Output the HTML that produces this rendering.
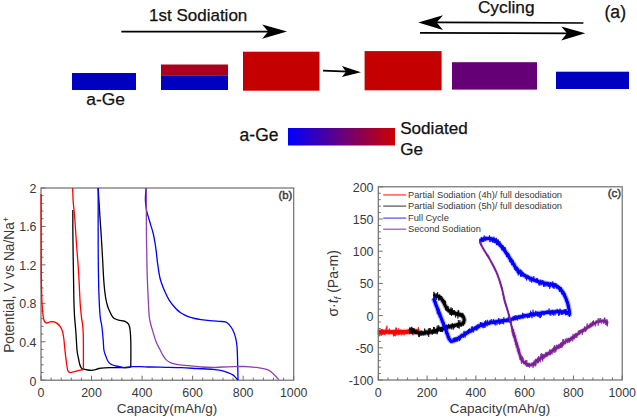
<!DOCTYPE html>
<html><head><meta charset="utf-8"><style>
html,body{margin:0;padding:0;background:#fff;}
body{width:637px;height:417px;overflow:hidden;font-family:"Liberation Sans",sans-serif;}
svg{display:block;}
</style></head><body>
<svg width="637" height="417" viewBox="0 0 637 417">
<g font-family="Liberation Sans, sans-serif" fill="#111" stroke="#111" stroke-width="0.25">
<text x="149" y="21" font-size="17">1st Sodiation</text>
<text x="477.9" y="13.2" font-size="17.3">Cycling</text>
<text x="604.5" y="18.2" font-size="17.6">(a)</text>
<text x="86.3" y="105" font-size="17.4">a-Ge</text>
<text x="239.6" y="141" font-size="17.5">a-Ge</text>
<text x="400.2" y="133.5" font-size="17.1">Sodiated</text>
<text x="400.2" y="154.7" font-size="17.1">Ge</text>
</g>
<g stroke="#000" stroke-width="1.75" fill="none">
<path d="M121.3 31.5 H270"/>
<path d="M434 22.45 L583.4 23.0"/>
<path d="M420 32.9 L570 33.3"/>
<path d="M323.1 70.6 L348 71.6"/>
</g>
<g fill="#000">
<path d="M287 31.55 L262.2 24.4 L268.2 31.55 L262.2 38.7 Z"/>
<path d="M418.2 22.4 L443 15.3 L436.6 22.4 L443 30 Z"/>
<path d="M585.3 33.3 L561.2 26.4 L567 33.3 L561.2 40.5 Z"/>
<path d="M361 72.2 L341.9 65.9 L346 71.7 L341.9 76.9 Z"/>
</g>
<rect x="72" y="73" width="64" height="17" fill="#0000c0"/>
<rect x="161" y="64.5" width="67" height="10.8" fill="#a8001e"/>
<rect x="161" y="75.3" width="67" height="14.7" fill="#0000c0"/>
<rect x="243" y="51.7" width="76.5" height="39" fill="#c40000"/>
<rect x="364.6" y="51.1" width="77" height="39.2" fill="#c40000"/>
<rect x="452" y="62.2" width="85" height="27.4" fill="#660077"/>
<rect x="556" y="71.7" width="73" height="17.3" fill="#0000c0"/>
<defs><linearGradient id="g1" x1="0" x2="1" y1="0" y2="0"><stop offset="0" stop-color="#0000ff"/><stop offset="1" stop-color="#cc0000"/></linearGradient></defs>
<rect x="288" y="128" width="107" height="17.5" fill="url(#g1)"/>
<rect x="41.00" y="188.00" width="252.70" height="192.20" fill="none" stroke="#6e6e6e" stroke-width="1.2"/>
<path d="M41.00 380.20 h4.5 M41.00 372.51 h2.5 M41.00 364.82 h2.5 M41.00 357.14 h2.5 M41.00 349.45 h2.5 M41.00 341.76 h4.5 M41.00 334.07 h2.5 M41.00 326.38 h2.5 M41.00 318.70 h2.5 M41.00 311.01 h2.5 M41.00 303.32 h4.5 M41.00 295.63 h2.5 M41.00 287.94 h2.5 M41.00 280.26 h2.5 M41.00 272.57 h2.5 M41.00 264.88 h4.5 M41.00 257.19 h2.5 M41.00 249.50 h2.5 M41.00 241.82 h2.5 M41.00 234.13 h2.5 M41.00 226.44 h4.5 M41.00 218.75 h2.5 M41.00 211.06 h2.5 M41.00 203.38 h2.5 M41.00 195.69 h2.5 M41.00 188.00 h4.5 M41.00 380.20 v-4.5 M51.11 380.20 v-2.5 M61.22 380.20 v-2.5 M71.32 380.20 v-2.5 M81.43 380.20 v-2.5 M91.54 380.20 v-4.5 M101.65 380.20 v-2.5 M111.76 380.20 v-2.5 M121.86 380.20 v-2.5 M131.97 380.20 v-2.5 M142.08 380.20 v-4.5 M152.19 380.20 v-2.5 M162.30 380.20 v-2.5 M172.40 380.20 v-2.5 M182.51 380.20 v-2.5 M192.62 380.20 v-4.5 M202.73 380.20 v-2.5 M212.84 380.20 v-2.5 M222.94 380.20 v-2.5 M233.05 380.20 v-2.5 M243.16 380.20 v-4.5 M253.27 380.20 v-2.5 M263.38 380.20 v-2.5 M273.48 380.20 v-2.5 M283.59 380.20 v-2.5 M293.70 380.20 v-4.5" stroke="#6e6e6e" stroke-width="1" fill="none"/>
<g fill="none" stroke-width="1.3" stroke-linejoin="round">
<path d="M72.80 210.00 C72.82 214.33 72.80 226.00 72.90 236.00 C73.00 246.00 73.23 259.33 73.40 270.00 C73.57 280.67 73.73 292.67 73.90 300.00 C74.07 307.33 74.22 310.33 74.40 314.00 C74.58 317.67 74.73 318.72 75.00 322.00 C75.27 325.28 75.67 329.03 76.00 333.70 C76.33 338.37 76.65 346.18 77.00 350.00 C77.35 353.82 77.65 354.22 78.10 356.60 C78.55 358.98 79.15 362.38 79.70 364.30 C80.25 366.22 80.67 367.28 81.40 368.10 C82.13 368.92 83.00 368.88 84.10 369.20 C85.20 369.52 86.80 369.82 88.00 370.00 C89.20 370.18 90.20 370.33 91.30 370.30 C92.40 370.27 93.32 370.10 94.60 369.80 C95.88 369.50 97.35 368.83 99.00 368.50 C100.65 368.17 102.67 367.95 104.50 367.80 C106.33 367.65 108.17 367.63 110.00 367.60 C111.83 367.57 113.67 367.60 115.50 367.60 C117.33 367.60 119.25 367.62 121.00 367.60 C122.75 367.58 124.42 367.57 126.00 367.50 C127.58 367.43 129.75 367.25 130.50 367.20" stroke="#000"/>
<path d="M130.50 367.20 C130.55 366.75 130.75 368.83 130.80 364.50 C130.85 360.17 130.92 346.95 130.80 341.20 C130.68 335.45 130.43 332.77 130.10 330.00 C129.77 327.23 129.42 325.90 128.80 324.60 C128.18 323.30 127.27 322.80 126.40 322.20 C125.53 321.60 124.92 321.35 123.60 321.00 C122.28 320.65 120.05 320.52 118.50 320.10 C116.95 319.68 115.42 319.25 114.30 318.50 C113.18 317.75 112.63 316.92 111.80 315.60 C110.97 314.28 110.03 312.28 109.30 310.60 C108.57 308.92 108.00 307.60 107.40 305.50 C106.80 303.40 106.18 300.75 105.70 298.00 C105.22 295.25 104.85 292.33 104.50 289.00 C104.15 285.67 103.87 282.00 103.60 278.00 C103.33 274.00 103.15 269.67 102.90 265.00 C102.65 260.33 102.33 254.17 102.10 250.00 C101.87 245.83 101.72 243.50 101.50 240.00 C101.28 236.50 101.07 233.00 100.80 229.00 C100.53 225.00 100.15 219.83 99.90 216.00 C99.65 212.17 99.52 209.33 99.30 206.00 C99.08 202.67 98.78 199.00 98.60 196.00 C98.42 193.00 98.27 189.33 98.20 188.00" stroke="#000"/>
<path d="M98.20 188.00 C98.20 198.33 98.10 233.00 98.20 250.00 C98.30 267.00 98.48 279.00 98.80 290.00 C99.12 301.00 99.60 310.00 100.10 316.00 C100.60 322.00 101.28 322.00 101.80 326.00 C102.32 330.00 102.85 336.00 103.20 340.00 C103.55 344.00 103.50 347.42 103.90 350.00 C104.30 352.58 104.95 353.67 105.60 355.50 C106.25 357.33 106.90 359.53 107.80 361.00 C108.70 362.47 109.72 363.48 111.00 364.30 C112.28 365.12 113.83 365.45 115.50 365.90 C117.17 366.35 119.55 366.72 121.00 367.00 C122.45 367.28 123.12 367.55 124.20 367.60 C125.28 367.65 126.22 367.47 127.50 367.30 C128.78 367.13 129.68 366.72 131.90 366.60 C134.12 366.48 137.78 366.53 140.80 366.60 C143.82 366.67 145.85 366.88 150.00 367.00 C154.15 367.12 160.47 367.18 165.70 367.30 C170.93 367.42 176.17 367.50 181.40 367.70 C186.63 367.90 191.87 368.23 197.10 368.50 C202.33 368.77 208.88 368.98 212.80 369.30 C216.72 369.62 217.98 369.82 220.60 370.40 C223.22 370.98 226.40 372.02 228.50 372.80 C230.60 373.58 231.90 374.18 233.20 375.10 C234.50 376.02 235.50 377.48 236.30 378.30 C237.10 379.12 237.72 379.72 238.00 380.00" stroke="#0000ff"/>
<path d="M238.00 380.00 C237.95 377.43 237.87 370.20 237.70 364.60 C237.53 359.00 237.37 350.95 237.00 346.40 C236.63 341.85 236.20 340.03 235.50 337.30 C234.80 334.57 233.87 332.12 232.80 330.00 C231.73 327.88 230.32 325.95 229.10 324.60 C227.88 323.25 227.17 322.43 225.50 321.90 C223.83 321.37 221.68 321.60 219.10 321.40 C216.52 321.20 212.98 320.98 210.00 320.70 C207.02 320.42 203.78 320.07 201.20 319.70 C198.62 319.33 196.53 318.97 194.50 318.50 C192.47 318.03 190.68 317.52 189.00 316.90 C187.32 316.28 185.90 315.58 184.40 314.80 C182.90 314.02 181.40 313.22 180.00 312.20 C178.60 311.18 177.78 310.68 176.00 308.70 C174.22 306.72 171.25 303.37 169.30 300.30 C167.35 297.23 165.83 293.93 164.30 290.30 C162.77 286.67 161.22 282.98 160.10 278.50 C158.98 274.02 158.22 267.65 157.60 263.40 C156.98 259.15 156.80 256.23 156.40 253.00 C156.00 249.77 155.75 247.33 155.20 244.00 C154.65 240.67 153.87 236.23 153.10 233.00 C152.33 229.77 151.43 227.40 150.60 224.60 C149.77 221.80 148.80 218.72 148.10 216.20 C147.40 213.68 146.82 211.70 146.40 209.50 C145.98 207.30 145.77 204.75 145.60 203.00 C145.43 201.25 145.40 200.50 145.40 199.00 C145.40 197.50 145.48 195.83 145.60 194.00 C145.72 192.17 146.02 189.00 146.10 188.00" stroke="#0000ff"/>
<path d="M41.10 194.00 C41.12 203.33 41.17 236.00 41.20 250.00 C41.23 264.00 41.20 270.00 41.30 278.00 C41.40 286.00 41.60 292.67 41.80 298.00 C42.00 303.33 42.27 306.95 42.50 310.00 C42.73 313.05 42.90 314.45 43.20 316.30 C43.50 318.15 43.72 319.98 44.30 321.10 C44.88 322.22 45.77 322.87 46.70 323.00 C47.63 323.13 48.72 322.08 49.90 321.90 C51.08 321.72 52.62 321.65 53.80 321.90 C54.98 322.15 55.93 322.62 57.00 323.40 C58.07 324.18 59.28 325.27 60.20 326.60 C61.12 327.93 61.90 329.42 62.50 331.40 C63.10 333.38 63.40 335.47 63.80 338.50 C64.20 341.53 64.50 345.92 64.90 349.60 C65.30 353.28 65.73 357.18 66.20 360.60 C66.67 364.02 67.13 368.12 67.70 370.10 C68.27 372.08 68.48 372.23 69.60 372.50 C70.72 372.77 73.00 372.02 74.40 371.70 C75.80 371.38 76.83 370.88 78.00 370.60 C79.17 370.32 80.50 370.17 81.40 370.00 C82.30 369.83 83.07 369.67 83.40 369.60" stroke="#ff0000"/>
<path d="M83.40 369.60 C83.40 365.50 83.43 351.10 83.40 345.00 C83.37 338.90 83.35 336.50 83.20 333.00 C83.05 329.50 82.77 326.48 82.50 324.00 C82.23 321.52 81.97 321.25 81.60 318.10 C81.23 314.95 80.67 310.15 80.30 305.10 C79.93 300.05 79.70 293.55 79.40 287.80 C79.10 282.05 78.87 276.35 78.50 270.60 C78.13 264.85 77.62 258.90 77.20 253.30 C76.78 247.70 76.33 241.83 76.00 237.00 C75.67 232.17 75.52 228.63 75.20 224.30 C74.88 219.97 74.42 214.55 74.10 211.00 C73.78 207.45 73.50 205.50 73.30 203.00 C73.10 200.50 73.00 198.50 72.90 196.00 C72.80 193.50 72.73 189.33 72.70 188.00" stroke="#ff0000"/>
<path d="M146.30 188.00 C146.32 195.00 146.33 219.67 146.40 230.00 C146.47 240.33 146.57 242.50 146.70 250.00 C146.83 257.50 146.93 266.62 147.20 275.00 C147.47 283.38 147.97 293.47 148.30 300.30 C148.63 307.13 148.88 312.38 149.20 316.00 C149.52 319.62 149.78 320.05 150.20 322.00 C150.62 323.95 150.75 324.50 151.70 327.70 C152.65 330.90 154.48 337.48 155.90 341.20 C157.32 344.92 159.08 347.75 160.20 350.00 C161.32 352.25 161.68 353.13 162.60 354.70 C163.52 356.27 164.40 358.08 165.70 359.40 C167.00 360.72 168.57 361.77 170.40 362.60 C172.23 363.43 173.57 363.88 176.70 364.40 C179.83 364.92 185.02 365.27 189.20 365.70 C193.38 366.13 197.87 366.70 201.80 367.00 C205.73 367.30 209.40 367.50 212.80 367.50 C216.20 367.50 218.80 367.15 222.20 367.00 C225.60 366.85 229.57 366.68 233.20 366.60 C236.83 366.52 240.92 366.43 244.00 366.50 C247.08 366.57 249.37 366.82 251.70 367.00 C254.03 367.18 256.03 367.32 258.00 367.60 C259.97 367.88 261.75 368.27 263.50 368.70 C265.25 369.13 267.17 369.60 268.50 370.20 C269.83 370.80 270.38 371.38 271.50 372.30 C272.62 373.22 273.98 374.48 275.20 375.70 C276.42 376.92 278.20 378.95 278.80 379.60" stroke="#9040b0"/>
</g>
<g font-family="Liberation Sans, sans-serif" fill="#393939" font-size="12.4">
<text x="36.5" y="385.50" text-anchor="end">0</text>
<text x="36.5" y="346.94" text-anchor="end">0.4</text>
<text x="36.5" y="308.38" text-anchor="end">0.8</text>
<text x="36.5" y="269.82" text-anchor="end">1.2</text>
<text x="36.5" y="231.26" text-anchor="end">1.6</text>
<text x="36.5" y="192.70" text-anchor="end">2</text>
<text x="41.00" y="396.6" text-anchor="middle">0</text>
<text x="91.54" y="396.6" text-anchor="middle">200</text>
<text x="142.08" y="396.6" text-anchor="middle">400</text>
<text x="192.62" y="396.6" text-anchor="middle">600</text>
<text x="243.16" y="396.6" text-anchor="middle">800</text>
<text x="293.70" y="396.6" text-anchor="middle">1000</text>
</g>
<text x="167" y="412.8" font-family="Liberation Sans, sans-serif" font-size="13.5" fill="#393939" text-anchor="middle">Capacity(mAh/g)</text>
<text transform="translate(14.0,352.8) rotate(-90)" font-family="Liberation Sans, sans-serif" font-size="13.75" fill="#393939">Potential, V vs Na/Na<tspan dy="-5.5" font-size="9">+</tspan></text>
<text x="292.4" y="199.2" font-family="Liberation Sans, sans-serif" font-size="11.4" fill="#3a3a3a" stroke="#3a3a3a" stroke-width="0.45" text-anchor="end">(b)</text>
<g fill="none" stroke-linejoin="round" stroke-linecap="butt">
<path d="M378.00 332.00 C380.00 332.00 386.33 332.03 390.00 332.00 C393.67 331.97 396.67 331.88 400.00 331.80 C403.33 331.72 406.83 331.58 410.00 331.50 C413.17 331.42 417.50 331.33 419.00 331.30" stroke="#ff0000" stroke-width="6.00" opacity="0.30"/>
<path d="M378.00 332.00 C380.00 332.00 386.33 332.03 390.00 332.00 C393.67 331.97 396.67 331.88 400.00 331.80 C403.33 331.72 406.83 331.58 410.00 331.50 C413.17 331.42 417.50 331.33 419.00 331.30" stroke="#ff0000" stroke-width="3.60"/>
<path d="M378.0 334.6 L378.1 334.9 L378.2 329.8 L378.3 332.1 L378.5 332.4 L378.6 332.3 L378.7 332.0 L378.9 331.9 L379.0 332.6 L379.2 336.4 L379.3 334.5 L379.5 332.4 L379.7 332.4 L379.8 334.1 L380.0 329.8 L380.2 332.9 L380.4 332.4 L380.6 334.2 L380.8 333.3 L381.0 329.8 L381.2 336.0 L381.4 331.8 L381.6 331.4 L381.8 328.9 L382.0 333.4 L382.3 329.4 L382.5 334.9 L382.7 329.4 L382.9 333.5 L383.1 332.3 L383.4 333.2 L383.6 334.2 L383.8 330.5 L384.1 333.5 L384.3 330.0 L384.5 331.8 L384.8 335.0 L385.0 332.9 L385.2 331.1 L385.5 332.8 L385.7 332.3 L385.9 329.5 L386.2 327.6 L386.4 331.6 L386.6 331.7 L386.9 325.6 L387.1 330.1 L387.3 331.2 L387.5 330.8 L387.8 331.4 L388.0 330.9 L388.2 333.5 L388.4 330.3 L388.6 330.6 L388.8 333.2 L389.0 334.4 L389.2 333.1 L389.4 328.5 L389.6 331.6 L389.8 331.3 L390.0 332.1 L390.2 330.5 L390.4 331.6 L390.7 332.6 L390.9 332.8 L391.1 333.4 L391.3 331.0 L391.5 334.0 L391.7 330.8 L391.9 332.6 L392.1 330.6 L392.3 331.9 L392.5 332.3 L392.7 332.0 L392.9 333.6 L393.1 334.6 L393.3 333.0 L393.5 336.4 L393.7 332.4 L393.9 334.8 L394.1 330.7 L394.3 334.5 L394.5 335.9 L394.7 331.1 L394.9 330.2 L395.1 336.3 L395.3 331.9 L395.5 332.2 L395.7 334.1 L395.9 327.5 L396.1 335.5 L396.3 327.9 L396.5 330.6 L396.7 333.2 L396.9 330.7 L397.1 332.4 L397.3 331.2 L397.5 334.1 L397.6 332.2 L397.8 331.6 L398.0 335.3 L398.2 331.6 L398.4 330.1 L398.6 328.4 L398.8 334.1 L399.0 329.8 L399.2 332.1 L399.4 335.0 L399.6 333.0 L399.8 331.1 L400.0 332.8 L400.2 330.2 L400.4 333.6 L400.6 329.8 L400.8 333.4 L401.0 333.7 L401.2 335.4 L401.4 333.5 L401.6 330.3 L401.8 334.1 L402.0 330.5 L402.2 331.1 L402.4 333.7 L402.6 330.1 L402.8 331.1 L403.0 335.2 L403.2 331.3 L403.4 330.9 L403.6 333.1 L403.8 332.1 L404.0 332.6 L404.3 332.5 L404.5 335.2 L404.7 334.3 L404.9 333.1 L405.1 330.7 L405.3 334.0 L405.5 333.3 L405.7 333.3 L405.9 331.4 L406.1 331.3 L406.3 332.3 L406.5 332.6 L406.7 331.4 L406.9 334.1 L407.1 331.3 L407.3 331.4 L407.5 334.1 L407.7 333.0 L407.9 332.4 L408.1 329.9 L408.3 329.2 L408.5 330.9 L408.7 333.2 L408.8 332.9 L409.0 330.5 L409.2 329.2 L409.4 330.2 L409.6 331.5 L409.8 332.3 L410.0 334.0 L410.2 332.8 L410.4 327.5 L410.6 331.7 L410.9 331.7 L411.1 330.7 L411.3 332.4 L411.5 327.1 L411.8 333.3 L412.0 332.9 L412.2 332.3 L412.5 330.8 L412.7 329.7 L412.9 335.4 L413.2 333.2 L413.4 328.6 L413.6 330.3 L413.9 331.9 L414.1 331.4 L414.3 332.1 L414.6 329.0 L414.8 330.6 L415.0 329.9 L415.2 332.5 L415.5 330.1 L415.7 329.7 L415.9 330.7 L416.1 332.2 L416.3 332.3 L416.5 329.6 L416.7 331.4 L416.9 331.6 L417.1 330.1 L417.3 329.6 L417.5 331.5 L417.6 333.7 L417.8 329.1 L418.0 332.7 L418.1 330.9 L418.3 334.2 L418.4 327.2 L418.5 331.0 L418.7 332.6 L418.8 330.1 L418.9 329.2 L419.0 333.5" stroke="#ff0000" stroke-width="0.7"/>
<path d="M409.30 330.20 C410.35 330.55 413.25 331.83 415.60 332.30 C417.95 332.77 420.80 333.05 423.40 333.00 C426.00 332.95 428.90 332.50 431.20 332.00 C433.50 331.50 435.00 330.67 437.20 330.00 C439.40 329.33 442.00 328.63 444.40 328.00 C446.80 327.37 449.20 326.80 451.60 326.20 C454.00 325.60 456.97 324.83 458.80 324.40 C460.63 323.97 461.73 324.08 462.60 323.60 C463.47 323.12 463.77 322.35 464.00 321.50 C464.23 320.65 464.27 319.48 464.00 318.50 C463.73 317.52 463.45 316.35 462.40 315.60 C461.35 314.85 459.52 314.57 457.70 314.00 C455.88 313.43 453.32 313.13 451.50 312.20 C449.68 311.27 448.10 310.03 446.80 308.40 C445.50 306.77 444.62 304.00 443.70 302.40 C442.78 300.80 442.12 299.77 441.30 298.80 C440.48 297.83 439.68 297.12 438.80 296.60 C437.92 296.08 436.88 295.75 436.00 295.70 C435.12 295.65 433.92 296.20 433.50 296.30" stroke="#000000" stroke-width="5.40" opacity="0.30"/>
<path d="M409.30 330.20 C410.35 330.55 413.25 331.83 415.60 332.30 C417.95 332.77 420.80 333.05 423.40 333.00 C426.00 332.95 428.90 332.50 431.20 332.00 C433.50 331.50 435.00 330.67 437.20 330.00 C439.40 329.33 442.00 328.63 444.40 328.00 C446.80 327.37 449.20 326.80 451.60 326.20 C454.00 325.60 456.97 324.83 458.80 324.40 C460.63 323.97 461.73 324.08 462.60 323.60 C463.47 323.12 463.77 322.35 464.00 321.50 C464.23 320.65 464.27 319.48 464.00 318.50 C463.73 317.52 463.45 316.35 462.40 315.60 C461.35 314.85 459.52 314.57 457.70 314.00 C455.88 313.43 453.32 313.13 451.50 312.20 C449.68 311.27 448.10 310.03 446.80 308.40 C445.50 306.77 444.62 304.00 443.70 302.40 C442.78 300.80 442.12 299.77 441.30 298.80 C440.48 297.83 439.68 297.12 438.80 296.60 C437.92 296.08 436.88 295.75 436.00 295.70 C435.12 295.65 433.92 296.20 433.50 296.30" stroke="#000000" stroke-width="3.00"/>
<path d="M409.3 334.6 L409.4 328.9 L409.5 331.9 L409.6 327.5 L409.8 328.2 L409.9 328.7 L410.0 328.7 L410.2 331.4 L410.4 333.0 L410.5 329.9 L410.7 331.2 L410.9 330.9 L411.1 327.8 L411.3 333.8 L411.5 331.1 L411.7 331.5 L411.9 326.8 L412.1 330.8 L412.3 334.1 L412.5 329.2 L412.7 331.8 L412.9 328.0 L413.2 332.8 L413.4 331.4 L413.6 329.4 L413.8 332.4 L414.1 328.1 L414.3 332.0 L414.5 333.8 L414.7 330.8 L414.9 331.8 L415.2 329.9 L415.4 331.9 L415.6 331.2 L415.8 333.8 L416.0 331.5 L416.2 330.0 L416.3 332.4 L416.5 332.0 L416.7 333.8 L416.9 332.0 L417.1 332.0 L417.3 333.7 L417.5 331.9 L417.7 331.7 L417.9 331.4 L418.1 334.6 L418.3 334.2 L418.5 333.8 L418.7 336.8 L418.9 334.7 L419.1 333.2 L419.3 337.1 L419.5 335.3 L419.7 334.4 L419.9 333.1 L420.1 334.1 L420.3 335.7 L420.5 334.1 L420.7 332.9 L421.0 330.5 L421.2 330.8 L421.4 335.1 L421.6 333.4 L421.8 335.7 L422.0 331.1 L422.2 331.6 L422.4 333.2 L422.6 334.8 L422.8 334.3 L423.0 331.3 L423.2 332.0 L423.4 334.5 L423.6 332.6 L423.8 335.5 L424.0 333.3 L424.2 334.1 L424.4 333.2 L424.6 328.5 L424.8 332.6 L425.0 333.2 L425.2 335.1 L425.4 330.3 L425.7 330.3 L425.9 329.7 L426.1 334.0 L426.3 332.0 L426.5 332.7 L426.7 332.8 L426.9 331.8 L427.1 330.3 L427.3 333.4 L427.5 332.7 L427.7 331.3 L427.9 335.2 L428.1 332.9 L428.3 328.6 L428.5 330.3 L428.7 336.9 L428.9 333.1 L429.1 330.7 L429.3 328.0 L429.5 331.5 L429.7 332.8 L429.9 333.9 L430.1 329.0 L430.3 328.1 L430.5 329.0 L430.7 332.8 L430.8 331.8 L431.0 330.2 L431.2 331.1 L431.4 331.1 L431.6 332.5 L431.8 333.5 L432.1 329.5 L432.3 334.6 L432.5 332.1 L432.7 329.7 L432.8 331.6 L433.0 331.2 L433.2 333.9 L433.4 332.9 L433.6 326.9 L433.8 331.5 L434.0 333.5 L434.1 329.2 L434.3 327.0 L434.5 332.5 L434.7 332.0 L434.9 330.2 L435.1 331.1 L435.2 333.6 L435.4 330.4 L435.6 330.9 L435.8 333.4 L436.0 329.4 L436.2 330.2 L436.4 330.3 L436.6 329.3 L436.8 329.9 L437.0 334.3 L437.2 325.6 L437.4 333.6 L437.6 331.2 L437.7 331.5 L437.9 330.7 L438.1 328.9 L438.3 327.1 L438.5 331.4 L438.7 325.2 L438.9 330.4 L439.1 327.6 L439.3 326.6 L439.4 327.9 L439.6 327.9 L439.8 329.0 L440.0 329.0 L440.2 331.3 L440.4 327.1 L440.6 332.0 L440.8 327.8 L441.0 329.6 L441.2 328.2 L441.4 329.8 L441.6 331.9 L441.8 329.1 L442.0 327.6 L442.2 328.5 L442.4 331.1 L442.6 332.1 L442.8 328.3 L443.0 330.8 L443.2 329.4 L443.4 324.3 L443.6 329.2 L443.8 326.8 L444.0 326.9 L444.2 329.6 L444.4 328.0 L444.6 327.8 L444.8 327.2 L445.0 327.3 L445.2 326.8 L445.4 328.3 L445.6 327.7 L445.8 328.5 L446.0 330.5 L446.2 326.4 L446.3 324.6 L446.5 326.8 L446.7 329.1 L446.9 325.8 L447.1 325.4 L447.3 327.9 L447.5 329.8 L447.7 326.3 L447.9 327.1 L448.1 324.8 L448.3 326.1 L448.5 325.4 L448.7 323.8 L448.9 325.8 L449.1 328.2 L449.3 328.3 L449.5 325.1 L449.7 328.1 L449.8 326.6 L450.0 328.3 L450.2 325.1 L450.4 326.9 L450.6 327.5 L450.8 324.5 L451.0 325.7 L451.2 325.7 L451.4 329.4 L451.6 326.0 L451.8 324.4 L452.0 325.3 L452.2 323.3 L452.4 323.2 L452.6 325.4 L452.8 324.4 L453.0 326.0 L453.2 329.7 L453.4 328.1 L453.6 326.6 L453.8 325.4 L454.1 327.9 L454.3 328.2 L454.5 326.5 L454.7 323.7 L454.9 326.4 L455.1 326.7 L455.3 326.1 L455.5 326.3 L455.7 325.2 L455.9 326.9 L456.1 323.7 L456.3 323.8 L456.5 326.0 L456.7 325.3 L456.9 325.1 L457.1 323.8 L457.3 323.0 L457.5 327.6 L457.6 326.7 L457.8 324.6 L458.0 323.0 L458.2 328.0 L458.3 320.1 L458.5 323.1 L458.6 322.5 L458.8 325.0 L459.1 328.7 L459.4 328.4 L459.6 322.3 L459.9 320.2 L460.1 324.2 L460.3 323.9 L460.6 324.6 L460.8 325.1 L461.0 326.9 L461.2 323.5 L461.3 324.1 L461.5 326.2 L461.7 323.2 L461.9 323.9 L462.0 324.9 L462.2 321.6 L462.3 325.2 L462.5 325.5 L462.6 324.7 L462.8 324.3 L463.0 321.3 L463.2 325.1 L463.3 322.5 L463.4 320.5 L463.5 325.6 L463.6 324.8 L463.7 321.1 L463.8 323.3 L463.9 319.0 L463.9 323.8 L464.0 319.9 L464.0 321.6 L464.1 321.6 L464.1 324.0 L464.1 323.2 L464.2 321.0 L464.2 317.8 L464.2 318.8 L464.2 319.3 L464.2 317.6 L464.2 321.2 L464.2 315.9 L464.1 319.4 L464.1 319.8 L464.0 320.6 L464.0 322.9 L463.9 316.7 L463.9 318.5 L463.8 317.4 L463.8 316.2 L463.7 315.8 L463.7 318.4 L463.6 316.6 L463.5 316.1 L463.4 317.9 L463.3 315.8 L463.2 314.5 L463.1 317.8 L462.9 316.5 L462.8 312.9 L462.6 314.0 L462.4 316.1 L462.3 316.3 L462.1 317.5 L462.0 313.8 L461.8 314.5 L461.6 316.1 L461.5 314.0 L461.3 317.3 L461.1 313.0 L460.9 315.8 L460.7 313.4 L460.5 315.3 L460.3 316.4 L460.1 314.4 L459.9 312.8 L459.7 314.7 L459.5 314.2 L459.3 316.0 L459.1 316.6 L458.8 310.6 L458.6 311.9 L458.4 315.6 L458.2 309.9 L457.9 318.5 L457.7 313.0 L457.5 315.8 L457.4 312.0 L457.2 314.0 L457.0 315.2 L456.8 315.5 L456.6 315.8 L456.4 315.6 L456.2 313.2 L456.0 313.9 L455.8 314.9 L455.6 317.5 L455.4 316.0 L455.2 312.8 L455.0 311.4 L454.8 310.9 L454.6 313.1 L454.4 312.3 L454.2 310.0 L454.0 312.0 L453.8 313.2 L453.6 310.3 L453.4 312.3 L453.2 314.9 L453.0 314.3 L452.8 311.7 L452.6 313.1 L452.4 308.2 L452.2 313.3 L452.0 314.9 L451.8 311.1 L451.7 309.1 L451.5 315.9 L451.3 314.0 L451.1 310.6 L451.0 307.3 L450.8 315.0 L450.6 309.1 L450.4 310.9 L450.3 311.8 L450.1 310.2 L449.9 314.9 L449.8 310.4 L449.6 311.5 L449.4 310.6 L449.3 312.4 L449.1 309.4 L449.0 309.9 L448.8 310.0 L448.6 312.3 L448.5 310.3 L448.3 309.7 L448.2 309.4 L448.0 306.1 L447.9 312.2 L447.8 307.6 L447.6 309.8 L447.5 307.0 L447.3 308.8 L447.2 309.8 L447.1 306.0 L446.9 309.9 L446.8 309.7 L446.7 311.1 L446.6 307.7 L446.5 305.8 L446.3 308.6 L446.2 308.2 L446.1 310.7 L446.0 306.9 L445.9 306.7 L445.8 309.3 L445.7 306.2 L445.6 306.5 L445.5 309.4 L445.4 303.2 L445.3 306.6 L445.2 301.3 L445.2 306.7 L445.1 301.0 L445.0 304.9 L444.9 305.9 L444.8 304.4 L444.7 300.1 L444.6 305.7 L444.5 301.6 L444.5 301.6 L444.4 304.3 L444.3 301.8 L444.2 302.2 L444.1 301.5 L444.0 303.8 L443.9 301.0 L443.9 300.3 L443.8 304.2 L443.7 301.0 L443.6 299.6 L443.4 301.0 L443.3 302.0 L443.2 299.0 L443.1 299.4 L443.0 300.8 L442.9 301.7 L442.7 302.7 L442.6 299.6 L442.5 302.7 L442.4 300.7 L442.3 299.0 L442.2 302.0 L442.1 301.8 L442.0 297.6 L441.9 298.6 L441.8 298.6 L441.6 296.3 L441.5 297.7 L441.4 296.3 L441.3 298.7 L441.1 299.9 L441.0 298.3 L440.8 298.0 L440.7 296.7 L440.5 299.7 L440.4 295.8 L440.2 295.8 L440.1 298.8 L439.9 298.4 L439.8 300.2 L439.6 294.5 L439.4 294.7 L439.3 296.9 L439.1 296.7 L439.0 297.1 L438.8 297.8 L438.6 300.6 L438.4 296.7 L438.2 295.3 L438.0 296.4 L437.8 297.5 L437.6 292.2 L437.4 297.0 L437.2 296.3 L437.0 296.7 L436.8 293.5 L436.6 299.9 L436.4 296.5 L436.2 297.6 L436.0 297.6 L435.8 297.5 L435.5 296.2 L435.3 296.1 L435.1 298.6 L434.8 293.5 L434.6 292.9 L434.3 297.0 L434.1 296.3 L433.9 291.8 L433.8 296.1 L433.6 294.9 L433.5 295.1" stroke="#000000" stroke-width="0.7"/>
<path d="M433.50 298.30 C434.35 300.52 436.78 306.93 438.60 311.60 C440.42 316.27 442.95 322.57 444.40 326.30 C445.85 330.03 446.47 331.83 447.30 334.00 C448.13 336.17 448.70 338.10 449.40 339.30 C450.10 340.50 450.68 340.98 451.50 341.20 C452.32 341.42 453.12 341.13 454.30 340.60 C455.48 340.07 457.15 338.90 458.60 338.00 C460.05 337.10 461.55 336.10 463.00 335.20 C464.45 334.30 465.87 333.42 467.30 332.60 C468.73 331.78 470.17 331.10 471.60 330.30 C473.03 329.50 474.47 328.58 475.90 327.80 C477.33 327.02 478.77 326.20 480.20 325.60 C481.63 325.00 483.05 324.63 484.50 324.20 C485.95 323.77 487.45 323.35 488.90 323.00 C490.35 322.65 491.62 322.40 493.20 322.10 C494.78 321.80 495.98 321.53 498.40 321.20 C500.82 320.87 504.05 320.80 507.70 320.10 C511.35 319.40 516.12 317.95 520.30 317.00 C524.48 316.05 528.62 315.13 532.80 314.40 C536.98 313.67 542.03 313.02 545.40 312.60 C548.77 312.18 550.48 312.05 553.00 311.90 C555.52 311.75 558.33 311.63 560.50 311.70 C562.67 311.77 564.65 312.00 566.00 312.30 C567.35 312.60 568.02 313.15 568.60 313.50 C569.18 313.85 569.38 314.82 569.50 314.40 C569.62 313.98 569.45 312.15 569.30 311.00 C569.15 309.85 568.92 308.93 568.60 307.50 C568.28 306.07 568.03 304.33 567.40 302.40 C566.77 300.47 565.77 297.88 564.80 295.90 C563.83 293.92 562.85 292.05 561.60 290.50 C560.35 288.95 558.92 287.60 557.30 286.60 C555.68 285.60 554.23 285.10 551.90 284.50 C549.57 283.90 546.17 283.72 543.30 283.00 C540.43 282.28 537.58 281.28 534.70 280.20 C531.82 279.12 528.70 278.02 526.00 276.50 C523.30 274.98 520.65 273.25 518.50 271.10 C516.35 268.95 514.90 266.30 513.10 263.60 C511.30 260.90 509.50 257.60 507.70 254.90 C505.90 252.20 504.10 249.55 502.30 247.40 C500.50 245.25 498.68 243.43 496.90 242.00 C495.12 240.57 493.57 239.33 491.60 238.80 C489.63 238.27 487.08 238.45 485.10 238.80 C483.12 239.15 480.60 240.55 479.70 240.90" stroke="#0000ff" stroke-width="5.50" opacity="0.30"/>
<path d="M433.50 298.30 C434.35 300.52 436.78 306.93 438.60 311.60 C440.42 316.27 442.95 322.57 444.40 326.30 C445.85 330.03 446.47 331.83 447.30 334.00 C448.13 336.17 448.70 338.10 449.40 339.30 C450.10 340.50 450.68 340.98 451.50 341.20 C452.32 341.42 453.12 341.13 454.30 340.60 C455.48 340.07 457.15 338.90 458.60 338.00 C460.05 337.10 461.55 336.10 463.00 335.20 C464.45 334.30 465.87 333.42 467.30 332.60 C468.73 331.78 470.17 331.10 471.60 330.30 C473.03 329.50 474.47 328.58 475.90 327.80 C477.33 327.02 478.77 326.20 480.20 325.60 C481.63 325.00 483.05 324.63 484.50 324.20 C485.95 323.77 487.45 323.35 488.90 323.00 C490.35 322.65 491.62 322.40 493.20 322.10 C494.78 321.80 495.98 321.53 498.40 321.20 C500.82 320.87 504.05 320.80 507.70 320.10 C511.35 319.40 516.12 317.95 520.30 317.00 C524.48 316.05 528.62 315.13 532.80 314.40 C536.98 313.67 542.03 313.02 545.40 312.60 C548.77 312.18 550.48 312.05 553.00 311.90 C555.52 311.75 558.33 311.63 560.50 311.70 C562.67 311.77 564.65 312.00 566.00 312.30 C567.35 312.60 568.02 313.15 568.60 313.50 C569.18 313.85 569.38 314.82 569.50 314.40 C569.62 313.98 569.45 312.15 569.30 311.00 C569.15 309.85 568.92 308.93 568.60 307.50 C568.28 306.07 568.03 304.33 567.40 302.40 C566.77 300.47 565.77 297.88 564.80 295.90 C563.83 293.92 562.85 292.05 561.60 290.50 C560.35 288.95 558.92 287.60 557.30 286.60 C555.68 285.60 554.23 285.10 551.90 284.50 C549.57 283.90 546.17 283.72 543.30 283.00 C540.43 282.28 537.58 281.28 534.70 280.20 C531.82 279.12 528.70 278.02 526.00 276.50 C523.30 274.98 520.65 273.25 518.50 271.10 C516.35 268.95 514.90 266.30 513.10 263.60 C511.30 260.90 509.50 257.60 507.70 254.90 C505.90 252.20 504.10 249.55 502.30 247.40 C500.50 245.25 498.68 243.43 496.90 242.00 C495.12 240.57 493.57 239.33 491.60 238.80 C489.63 238.27 487.08 238.45 485.10 238.80 C483.12 239.15 480.60 240.55 479.70 240.90" stroke="#0000ff" stroke-width="3.10"/>
<path d="M433.5 298.5 L433.5 300.5 L433.6 301.8 L433.6 298.2 L433.7 300.6 L433.7 298.8 L433.7 298.3 L433.8 298.3 L433.8 296.4 L433.9 298.9 L433.9 299.6 L434.0 297.3 L434.1 301.0 L434.1 298.5 L434.2 299.2 L434.2 296.5 L434.3 296.6 L434.4 301.9 L434.4 301.5 L434.5 301.8 L434.5 300.0 L434.6 300.2 L434.7 300.1 L434.7 303.4 L434.8 300.1 L434.9 298.4 L435.0 301.7 L435.0 301.4 L435.1 304.3 L435.2 301.5 L435.3 304.0 L435.3 301.2 L435.4 306.4 L435.5 299.8 L435.6 302.9 L435.6 304.4 L435.7 304.5 L435.8 304.0 L435.9 304.3 L436.0 303.3 L436.1 301.2 L436.1 305.0 L436.2 305.1 L436.3 305.4 L436.4 305.1 L436.5 305.4 L436.5 304.6 L436.6 310.2 L436.7 304.7 L436.8 307.4 L436.9 305.0 L437.0 306.5 L437.1 305.1 L437.1 308.9 L437.2 310.1 L437.3 314.2 L437.4 307.8 L437.5 310.2 L437.6 307.9 L437.6 308.0 L437.7 308.3 L437.8 308.7 L437.9 310.1 L438.0 309.9 L438.0 309.5 L438.1 312.6 L438.2 310.8 L438.3 307.5 L438.4 313.5 L438.4 313.1 L438.5 312.8 L438.6 313.1 L438.7 310.6 L438.7 314.2 L438.8 308.8 L438.9 309.9 L439.0 314.1 L439.0 308.9 L439.1 313.3 L439.2 315.2 L439.2 317.0 L439.3 314.3 L439.4 310.6 L439.5 312.3 L439.5 316.0 L439.6 315.4 L439.7 311.1 L439.8 314.2 L439.9 314.2 L439.9 317.1 L440.0 315.8 L440.1 317.2 L440.2 313.4 L440.2 315.6 L440.3 317.8 L440.4 316.6 L440.5 318.5 L440.6 316.1 L440.6 319.6 L440.7 313.5 L440.8 320.2 L440.9 318.1 L441.0 318.9 L441.0 316.6 L441.1 319.5 L441.2 319.6 L441.3 317.9 L441.4 318.5 L441.4 322.0 L441.5 322.2 L441.6 320.3 L441.7 319.9 L441.8 320.5 L441.8 320.7 L441.9 322.6 L442.0 323.0 L442.1 318.1 L442.1 322.3 L442.2 320.2 L442.3 320.9 L442.4 323.0 L442.5 319.1 L442.5 321.1 L442.6 321.8 L442.7 320.9 L442.8 322.2 L442.8 321.2 L442.9 323.4 L443.0 327.9 L443.0 323.2 L443.1 324.9 L443.2 323.7 L443.3 323.1 L443.3 323.2 L443.4 321.8 L443.5 321.9 L443.5 323.8 L443.6 324.4 L443.7 321.8 L443.7 323.0 L443.8 326.3 L443.9 325.2 L443.9 325.7 L444.0 324.6 L444.1 325.0 L444.1 322.3 L444.2 326.9 L444.2 326.8 L444.3 325.6 L444.3 324.3 L444.4 324.1 L444.5 326.2 L444.6 327.5 L444.7 325.7 L444.8 328.8 L444.9 328.9 L445.0 327.6 L445.1 328.8 L445.2 327.0 L445.2 328.3 L445.3 326.7 L445.4 328.2 L445.5 332.9 L445.6 332.2 L445.6 328.3 L445.7 326.0 L445.8 331.9 L445.8 329.3 L445.9 330.7 L446.0 334.2 L446.0 328.8 L446.1 331.9 L446.2 330.6 L446.2 330.3 L446.3 332.4 L446.4 333.2 L446.4 333.8 L446.5 331.1 L446.5 332.0 L446.6 331.2 L446.7 333.5 L446.7 330.7 L446.8 334.0 L446.8 331.0 L446.9 334.0 L446.9 332.1 L447.0 333.9 L447.1 335.5 L447.1 334.7 L447.2 332.3 L447.2 334.5 L447.3 336.2 L447.4 338.0 L447.5 335.4 L447.6 335.4 L447.6 331.5 L447.7 337.0 L447.8 333.8 L447.9 335.8 L448.0 337.1 L448.0 337.5 L448.1 338.0 L448.2 337.4 L448.3 336.2 L448.3 339.4 L448.4 338.7 L448.5 337.6 L448.5 337.2 L448.6 337.4 L448.7 338.1 L448.8 340.1 L448.8 339.3 L448.9 339.3 L449.0 339.5 L449.0 336.9 L449.1 339.5 L449.2 336.3 L449.3 338.6 L449.3 336.8 L449.4 340.1 L449.5 339.9 L449.7 339.0 L449.8 338.1 L450.0 339.3 L450.1 341.7 L450.3 341.0 L450.4 338.9 L450.6 338.6 L450.7 342.5 L450.8 340.0 L451.0 343.2 L451.2 339.9 L451.3 340.8 L451.5 342.2 L451.7 341.0 L451.9 340.5 L452.0 339.8 L452.2 340.5 L452.4 342.1 L452.6 341.5 L452.8 340.5 L453.0 339.2 L453.2 338.1 L453.4 342.0 L453.6 341.9 L453.8 340.8 L454.1 337.3 L454.3 339.1 L454.4 338.2 L454.6 339.4 L454.7 342.0 L454.9 342.0 L455.1 339.2 L455.2 339.8 L455.4 339.1 L455.6 341.0 L455.7 337.2 L455.9 341.4 L456.1 338.9 L456.3 341.4 L456.4 341.4 L456.6 337.7 L456.8 338.6 L457.0 338.4 L457.2 340.0 L457.3 340.9 L457.5 339.4 L457.7 341.6 L457.9 339.5 L458.1 339.2 L458.2 337.5 L458.4 338.3 L458.6 336.5 L458.8 336.5 L458.9 337.0 L459.1 339.0 L459.3 340.4 L459.4 339.0 L459.6 341.1 L459.8 339.9 L459.9 338.2 L460.1 337.5 L460.3 335.7 L460.5 339.6 L460.6 336.2 L460.8 335.0 L461.0 337.2 L461.1 335.4 L461.3 333.8 L461.5 336.8 L461.7 337.3 L461.8 336.2 L462.0 334.7 L462.2 337.0 L462.3 335.5 L462.5 337.1 L462.7 335.6 L462.8 335.6 L463.0 334.6 L463.2 334.4 L463.3 336.3 L463.5 337.9 L463.7 337.4 L463.9 335.2 L464.0 330.8 L464.2 334.6 L464.4 333.5 L464.6 334.9 L464.7 336.1 L464.9 332.8 L465.1 337.7 L465.2 333.3 L465.4 331.5 L465.6 333.8 L465.8 335.0 L465.9 333.3 L466.1 335.3 L466.3 334.5 L466.4 335.1 L466.6 333.2 L466.8 331.4 L467.0 332.7 L467.1 331.7 L467.3 334.2 L467.5 330.4 L467.7 334.3 L467.8 333.3 L468.0 331.8 L468.2 330.1 L468.4 331.4 L468.6 333.7 L468.7 328.9 L468.9 331.0 L469.1 332.5 L469.3 329.0 L469.5 332.3 L469.6 328.5 L469.8 331.1 L470.0 331.6 L470.2 330.9 L470.3 331.3 L470.5 330.2 L470.7 329.8 L470.9 332.8 L471.1 330.2 L471.2 330.2 L471.4 326.6 L471.6 326.6 L471.8 331.9 L472.0 331.4 L472.1 329.2 L472.3 328.9 L472.5 326.4 L472.7 327.9 L472.9 330.8 L473.0 327.8 L473.2 327.9 L473.4 332.5 L473.6 328.8 L473.8 328.7 L473.9 329.4 L474.1 328.2 L474.3 330.1 L474.5 329.7 L474.6 330.0 L474.8 329.6 L475.0 326.3 L475.2 329.6 L475.4 329.8 L475.5 327.4 L475.7 329.3 L475.9 327.9 L476.1 328.7 L476.3 330.3 L476.4 325.5 L476.6 329.6 L476.8 327.3 L477.0 330.5 L477.2 325.9 L477.3 327.5 L477.5 327.2 L477.7 328.0 L477.9 324.1 L478.0 327.2 L478.2 327.4 L478.4 328.7 L478.6 328.3 L478.8 326.1 L478.9 326.5 L479.1 326.0 L479.3 327.2 L479.5 327.5 L479.7 326.2 L479.8 326.8 L480.0 324.6 L480.2 325.8 L480.4 322.0 L480.6 326.7 L480.8 322.3 L481.0 325.5 L481.2 326.1 L481.4 322.9 L481.6 326.9 L481.8 324.3 L482.0 326.3 L482.1 324.5 L482.3 322.8 L482.5 327.3 L482.7 324.4 L482.9 324.6 L483.1 328.3 L483.3 325.1 L483.5 323.1 L483.7 326.1 L483.9 323.8 L484.1 327.9 L484.3 325.0 L484.5 322.5 L484.7 321.4 L484.9 324.1 L485.1 327.8 L485.3 325.3 L485.5 320.2 L485.7 322.2 L485.9 321.4 L486.1 325.2 L486.3 324.2 L486.5 323.7 L486.7 324.3 L486.9 321.8 L487.1 326.4 L487.3 319.8 L487.5 322.4 L487.7 322.3 L487.9 323.6 L488.1 322.5 L488.3 322.9 L488.5 324.4 L488.7 322.2 L488.9 322.6 L489.1 323.2 L489.3 324.8 L489.5 321.9 L489.7 324.9 L489.9 323.4 L490.1 319.9 L490.3 323.1 L490.5 322.8 L490.7 323.5 L490.9 320.9 L491.1 320.2 L491.3 319.1 L491.5 322.5 L491.7 322.8 L491.9 321.9 L492.1 322.2 L492.3 323.9 L492.5 321.1 L492.8 321.9 L493.0 321.3 L493.2 324.0 L493.4 319.1 L493.6 321.4 L493.7 320.3 L493.9 321.4 L494.1 324.0 L494.3 322.4 L494.4 322.7 L494.6 324.4 L494.8 322.1 L494.9 322.3 L495.1 322.7 L495.3 325.4 L495.5 323.0 L495.7 323.0 L495.9 322.6 L496.1 322.2 L496.3 322.2 L496.5 322.1 L496.7 321.1 L496.9 325.2 L497.1 321.3 L497.4 323.2 L497.6 320.7 L497.9 322.8 L498.1 321.4 L498.4 319.5 L498.6 320.4 L498.7 318.0 L498.9 320.4 L499.0 324.1 L499.2 319.7 L499.4 321.6 L499.6 320.2 L499.7 324.8 L499.9 322.6 L500.1 321.2 L500.3 321.2 L500.5 323.6 L500.6 320.8 L500.8 322.7 L501.0 322.1 L501.2 319.7 L501.4 320.0 L501.6 320.2 L501.8 322.3 L502.0 324.0 L502.2 319.5 L502.4 322.1 L502.6 320.6 L502.8 320.6 L503.0 319.2 L503.2 322.6 L503.4 320.3 L503.6 324.2 L503.8 317.1 L504.1 320.2 L504.3 320.2 L504.5 320.7 L504.7 320.0 L504.9 322.1 L505.2 320.3 L505.4 321.8 L505.6 319.2 L505.8 319.5 L506.1 321.5 L506.3 318.6 L506.5 322.1 L506.8 321.0 L507.0 321.2 L507.2 320.6 L507.5 320.7 L507.7 322.2 L507.9 320.5 L508.0 319.8 L508.2 316.8 L508.4 317.6 L508.6 320.8 L508.8 318.5 L508.9 321.2 L509.1 321.0 L509.3 322.7 L509.5 315.6 L509.7 320.0 L509.9 320.3 L510.0 321.9 L510.2 319.1 L510.4 320.8 L510.6 319.9 L510.8 319.0 L511.0 317.9 L511.2 322.3 L511.4 318.7 L511.6 318.7 L511.8 320.1 L512.0 318.3 L512.2 319.6 L512.4 318.9 L512.6 317.7 L512.8 318.8 L513.0 320.2 L513.2 315.9 L513.4 317.7 L513.6 320.3 L513.8 317.2 L514.0 317.9 L514.2 317.2 L514.4 320.0 L514.6 316.1 L514.8 317.0 L515.0 317.7 L515.2 315.0 L515.4 318.9 L515.6 317.3 L515.8 319.9 L516.1 317.2 L516.3 318.0 L516.5 316.4 L516.7 316.7 L516.9 315.3 L517.1 318.0 L517.3 319.1 L517.5 320.4 L517.7 317.0 L517.9 318.1 L518.1 318.4 L518.3 318.1 L518.5 315.9 L518.7 315.1 L518.9 316.9 L519.1 316.8 L519.3 318.8 L519.5 316.9 L519.7 317.2 L519.9 315.4 L520.1 318.0 L520.3 315.3 L520.5 317.1 L520.7 318.2 L520.9 318.0 L521.1 316.1 L521.3 318.2 L521.5 316.1 L521.7 316.0 L521.9 318.2 L522.1 317.0 L522.3 315.2 L522.5 312.8 L522.7 315.8 L522.9 315.2 L523.1 318.6 L523.3 315.2 L523.5 313.6 L523.7 315.2 L523.9 316.8 L524.1 317.4 L524.3 315.8 L524.5 314.6 L524.7 313.9 L524.9 316.2 L525.1 314.4 L525.3 315.4 L525.5 315.5 L525.7 314.8 L525.9 315.0 L526.1 315.5 L526.3 315.1 L526.5 316.9 L526.6 315.8 L526.8 316.9 L527.0 314.9 L527.2 316.2 L527.4 315.2 L527.6 318.3 L527.8 315.4 L528.0 316.6 L528.2 317.9 L528.4 317.4 L528.6 316.7 L528.8 315.0 L529.0 315.4 L529.2 315.5 L529.4 317.5 L529.6 317.7 L529.8 312.9 L530.0 314.0 L530.2 314.5 L530.4 316.1 L530.6 310.6 L530.8 315.1 L531.0 316.3 L531.2 312.4 L531.4 312.0 L531.6 313.6 L531.8 317.2 L532.0 318.3 L532.2 314.4 L532.4 313.5 L532.6 313.6 L532.8 313.8 L533.0 309.7 L533.2 313.7 L533.4 313.7 L533.6 312.2 L533.8 315.7 L534.0 317.0 L534.2 314.0 L534.4 314.2 L534.6 314.9 L534.8 312.7 L535.1 316.1 L535.3 314.1 L535.5 312.7 L535.7 310.7 L535.9 313.2 L536.1 314.2 L536.3 311.6 L536.5 313.1 L536.8 315.3 L537.0 314.0 L537.2 313.4 L537.4 316.5 L537.6 313.4 L537.8 311.6 L538.0 316.4 L538.2 314.7 L538.5 315.5 L538.7 312.5 L538.9 317.2 L539.1 317.2 L539.3 314.3 L539.5 313.4 L539.7 313.4 L539.9 317.9 L540.1 315.2 L540.3 318.1 L540.6 312.6 L540.8 315.0 L541.0 314.8 L541.2 314.9 L541.4 316.9 L541.6 314.3 L541.8 313.0 L542.0 310.9 L542.2 312.5 L542.4 312.5 L542.6 313.1 L542.7 312.9 L542.9 314.5 L543.1 312.1 L543.3 311.4 L543.5 314.0 L543.7 311.9 L543.9 315.4 L544.0 312.7 L544.2 314.3 L544.4 314.6 L544.6 312.2 L544.7 313.9 L544.9 313.1 L545.1 312.7 L545.2 313.7 L545.4 311.3 L545.7 312.6 L545.9 311.6 L546.2 314.0 L546.4 312.5 L546.6 310.8 L546.9 312.7 L547.1 313.6 L547.3 310.7 L547.5 310.2 L547.8 310.7 L548.0 312.5 L548.2 312.8 L548.4 313.9 L548.6 313.2 L548.8 311.7 L549.0 311.1 L549.1 308.4 L549.3 312.9 L549.5 311.6 L549.7 311.2 L549.9 315.3 L550.1 312.8 L550.2 313.0 L550.4 311.3 L550.6 313.7 L550.8 315.8 L551.0 312.5 L551.1 313.4 L551.3 311.8 L551.5 312.0 L551.7 313.2 L551.9 313.2 L552.0 311.1 L552.2 309.8 L552.4 311.4 L552.6 311.0 L552.8 315.0 L553.0 312.2 L553.2 311.3 L553.4 314.4 L553.6 315.6 L553.8 311.1 L554.0 311.5 L554.2 312.9 L554.5 311.1 L554.7 313.0 L554.9 315.5 L555.1 314.6 L555.3 314.0 L555.5 310.5 L555.7 309.9 L555.9 311.4 L556.1 311.6 L556.4 312.5 L556.6 313.1 L556.8 310.0 L557.0 311.2 L557.2 308.8 L557.4 312.0 L557.6 310.8 L557.8 311.8 L558.0 310.0 L558.2 311.9 L558.4 310.5 L558.6 315.8 L558.8 309.8 L559.0 311.7 L559.2 313.6 L559.4 315.4 L559.6 313.1 L559.8 314.4 L560.0 308.5 L560.1 310.9 L560.3 312.3 L560.5 311.6 L560.7 311.8 L561.0 309.9 L561.2 314.3 L561.4 311.7 L561.7 314.9 L561.9 313.5 L562.1 312.5 L562.4 310.6 L562.6 312.5 L562.8 314.5 L563.0 312.9 L563.2 311.4 L563.5 309.8 L563.7 309.9 L563.9 312.7 L564.1 313.9 L564.3 311.2 L564.5 311.6 L564.6 309.5 L564.8 311.7 L565.0 313.1 L565.2 308.9 L565.4 314.0 L565.5 315.3 L565.7 309.6 L565.8 311.9 L566.0 312.6 L566.3 309.4 L566.5 314.9 L566.8 311.3 L567.0 314.4 L567.2 312.2 L567.4 311.4 L567.6 314.7 L567.8 311.9 L567.9 311.5 L568.1 311.7 L568.2 311.9 L568.3 313.9 L568.5 312.5 L568.6 313.9 L568.9 313.2 L569.1 313.7 L569.2 313.1 L569.3 308.7 L569.4 313.7 L569.5 314.6 L569.5 316.9 L569.5 314.9 L569.5 316.0 L569.5 313.2 L569.5 315.9 L569.5 313.7 L569.5 312.3 L569.5 311.3 L569.5 316.6 L569.5 312.8 L569.5 312.8 L569.4 312.6 L569.4 310.9 L569.4 312.4 L569.4 312.9 L569.3 306.4 L569.3 310.9 L569.3 308.8 L569.2 309.7 L569.2 309.4 L569.2 311.6 L569.1 308.5 L569.1 310.9 L569.1 307.9 L569.0 307.1 L569.0 305.4 L568.9 309.8 L568.9 308.2 L568.9 307.0 L568.8 304.7 L568.8 309.9 L568.7 309.3 L568.7 306.9 L568.6 307.7 L568.6 309.6 L568.5 308.8 L568.5 306.5 L568.5 307.7 L568.4 308.0 L568.4 307.2 L568.3 307.4 L568.3 308.9 L568.3 305.5 L568.2 302.4 L568.2 306.8 L568.2 305.3 L568.1 306.8 L568.1 304.4 L568.0 305.3 L568.0 302.6 L567.9 306.6 L567.9 303.4 L567.8 301.6 L567.8 304.6 L567.7 304.8 L567.7 302.3 L567.6 305.1 L567.5 303.8 L567.5 305.1 L567.4 301.7 L567.3 301.3 L567.3 302.0 L567.2 303.2 L567.2 301.7 L567.1 299.5 L567.0 302.6 L567.0 299.9 L566.9 302.0 L566.8 298.9 L566.8 298.9 L566.7 302.6 L566.6 302.7 L566.6 303.8 L566.5 299.8 L566.4 300.9 L566.3 299.9 L566.3 297.4 L566.2 301.6 L566.1 298.7 L566.0 297.9 L566.0 298.8 L565.9 297.5 L565.8 300.4 L565.7 296.8 L565.6 298.0 L565.5 297.4 L565.5 296.0 L565.4 295.8 L565.3 296.6 L565.2 295.2 L565.1 293.2 L565.0 298.4 L565.0 297.3 L564.9 295.6 L564.8 295.2 L564.7 297.2 L564.6 296.4 L564.5 296.5 L564.4 296.1 L564.3 295.1 L564.2 294.0 L564.1 294.1 L564.0 291.9 L563.9 295.3 L563.9 296.4 L563.8 293.3 L563.7 292.9 L563.6 291.4 L563.5 294.7 L563.4 292.3 L563.3 295.4 L563.2 294.1 L563.1 294.6 L562.9 292.5 L562.8 293.1 L562.7 293.5 L562.6 291.5 L562.5 293.1 L562.4 291.0 L562.3 291.6 L562.2 293.0 L562.1 290.3 L562.0 290.3 L561.8 290.0 L561.7 290.5 L561.6 294.2 L561.5 287.3 L561.3 291.2 L561.2 288.2 L561.1 291.6 L560.9 290.6 L560.8 288.5 L560.7 291.5 L560.5 290.9 L560.4 288.2 L560.2 289.5 L560.1 287.3 L560.0 288.4 L559.8 288.9 L559.7 290.1 L559.5 286.3 L559.4 291.9 L559.2 288.2 L559.1 289.4 L558.9 288.2 L558.8 287.3 L558.6 287.0 L558.4 287.4 L558.3 285.6 L558.1 285.4 L558.0 286.0 L557.8 286.7 L557.6 287.4 L557.5 285.3 L557.3 286.2 L557.1 286.2 L557.0 284.7 L556.8 285.6 L556.6 288.7 L556.4 285.1 L556.3 283.7 L556.1 284.1 L555.9 285.8 L555.8 286.7 L555.6 283.1 L555.4 284.2 L555.2 286.5 L555.1 286.5 L554.9 283.3 L554.7 286.8 L554.5 284.4 L554.3 283.4 L554.1 288.9 L553.9 283.6 L553.7 283.8 L553.5 284.7 L553.3 283.7 L553.1 288.3 L552.8 281.3 L552.6 287.0 L552.4 287.3 L552.1 283.1 L551.9 285.4 L551.7 284.2 L551.6 284.5 L551.4 285.6 L551.2 283.0 L551.0 283.3 L550.9 282.0 L550.7 287.4 L550.5 282.2 L550.3 284.0 L550.1 284.4 L549.9 284.9 L549.7 289.0 L549.5 284.5 L549.3 284.0 L549.1 286.7 L548.9 285.5 L548.7 283.8 L548.5 283.7 L548.3 287.1 L548.1 282.2 L547.9 285.5 L547.7 286.1 L547.5 286.3 L547.3 286.0 L547.1 281.7 L546.9 284.4 L546.6 282.6 L546.4 285.2 L546.2 285.0 L546.0 286.4 L545.8 284.2 L545.6 282.0 L545.4 284.7 L545.2 282.1 L544.9 283.9 L544.7 286.7 L544.5 281.8 L544.3 281.8 L544.1 284.3 L543.9 286.1 L543.7 283.1 L543.5 286.8 L543.3 280.7 L543.1 280.7 L542.9 283.9 L542.7 282.7 L542.5 283.5 L542.3 280.0 L542.2 282.5 L542.0 282.8 L541.8 284.4 L541.6 283.1 L541.4 281.5 L541.2 285.2 L541.0 284.4 L540.8 279.7 L540.6 281.4 L540.4 280.1 L540.2 281.8 L540.1 283.1 L539.9 285.7 L539.7 284.8 L539.5 281.4 L539.3 282.6 L539.1 281.2 L538.9 285.4 L538.7 282.4 L538.5 283.2 L538.3 279.9 L538.1 281.2 L538.0 280.8 L537.8 282.7 L537.6 278.4 L537.4 282.9 L537.2 281.9 L537.0 281.0 L536.8 277.9 L536.6 282.2 L536.4 281.0 L536.2 280.1 L536.0 282.5 L535.9 281.7 L535.7 281.7 L535.5 279.0 L535.3 280.2 L535.1 279.8 L534.9 278.9 L534.7 280.2 L534.5 281.4 L534.3 279.2 L534.1 280.8 L534.0 280.8 L533.8 276.1 L533.6 281.3 L533.4 279.8 L533.2 281.2 L533.0 278.9 L532.8 280.5 L532.6 278.0 L532.5 278.2 L532.3 279.1 L532.1 278.9 L531.9 276.8 L531.7 282.7 L531.5 280.8 L531.3 279.2 L531.1 280.7 L530.9 280.1 L530.8 277.3 L530.6 278.4 L530.4 279.7 L530.2 279.2 L530.0 281.8 L529.8 276.1 L529.6 278.3 L529.4 279.3 L529.2 280.0 L529.1 278.3 L528.9 278.7 L528.7 276.3 L528.5 275.4 L528.3 278.4 L528.1 276.5 L528.0 277.5 L527.8 276.8 L527.6 278.2 L527.4 276.0 L527.2 278.1 L527.1 274.8 L526.9 276.9 L526.7 275.2 L526.5 280.5 L526.3 276.2 L526.2 275.1 L526.0 279.0 L525.8 274.8 L525.6 273.9 L525.5 275.3 L525.3 277.0 L525.1 274.9 L524.9 274.6 L524.8 274.9 L524.6 274.9 L524.4 273.6 L524.3 275.8 L524.1 274.5 L523.9 275.1 L523.7 276.2 L523.6 274.8 L523.4 274.2 L523.2 272.2 L523.0 275.7 L522.9 274.1 L522.7 276.3 L522.5 274.8 L522.4 273.5 L522.2 272.7 L522.0 275.5 L521.9 270.4 L521.7 276.5 L521.6 272.7 L521.4 276.2 L521.2 272.1 L521.1 276.2 L520.9 273.4 L520.7 269.3 L520.6 276.7 L520.4 271.0 L520.3 273.9 L520.1 272.0 L520.0 272.9 L519.8 270.3 L519.7 270.7 L519.5 269.9 L519.4 273.0 L519.2 272.5 L519.1 273.9 L518.9 269.8 L518.8 274.5 L518.6 270.2 L518.5 270.4 L518.4 268.2 L518.2 275.5 L518.1 271.0 L518.0 272.9 L517.8 269.3 L517.7 269.4 L517.6 266.8 L517.4 268.4 L517.3 269.2 L517.2 273.4 L517.1 271.9 L516.9 270.3 L516.8 268.1 L516.7 267.5 L516.6 270.6 L516.5 270.2 L516.4 269.8 L516.2 268.7 L516.1 267.6 L516.0 268.8 L515.9 270.6 L515.8 270.1 L515.7 270.9 L515.6 267.2 L515.4 265.1 L515.3 267.6 L515.2 266.7 L515.1 265.0 L515.0 266.6 L514.9 266.0 L514.8 262.9 L514.7 269.8 L514.6 267.8 L514.5 266.1 L514.3 267.4 L514.2 263.1 L514.1 267.5 L514.0 266.6 L513.9 266.1 L513.8 263.9 L513.7 265.9 L513.6 262.4 L513.4 261.0 L513.3 263.0 L513.2 264.7 L513.1 262.4 L513.0 259.9 L512.9 262.5 L512.8 262.9 L512.7 261.6 L512.6 262.9 L512.5 261.9 L512.4 262.2 L512.3 259.5 L512.1 262.4 L512.0 259.9 L511.9 260.0 L511.8 265.1 L511.7 261.9 L511.6 259.7 L511.5 262.9 L511.4 260.4 L511.3 262.0 L511.2 260.6 L511.1 260.4 L511.0 261.4 L510.9 258.0 L510.8 260.3 L510.7 262.7 L510.6 259.4 L510.5 262.0 L510.3 258.8 L510.2 258.7 L510.1 259.4 L510.0 258.2 L509.9 259.5 L509.8 262.0 L509.7 259.2 L509.6 257.1 L509.5 258.9 L509.4 257.9 L509.3 259.8 L509.2 257.1 L509.1 256.9 L509.0 258.1 L508.9 255.1 L508.8 253.7 L508.7 256.0 L508.5 253.1 L508.4 254.6 L508.3 256.8 L508.2 257.5 L508.1 256.8 L508.0 255.8 L507.9 254.2 L507.8 256.0 L507.7 254.7 L507.6 252.7 L507.5 253.3 L507.3 255.9 L507.2 256.9 L507.1 255.4 L507.0 254.0 L506.9 253.4 L506.8 253.7 L506.6 257.1 L506.5 255.9 L506.4 250.9 L506.3 252.9 L506.2 253.0 L506.1 255.2 L505.9 254.1 L505.8 250.7 L505.7 252.1 L505.6 254.1 L505.5 251.9 L505.4 252.0 L505.2 247.5 L505.1 252.3 L505.0 250.2 L504.9 247.0 L504.8 248.9 L504.6 253.3 L504.5 252.8 L504.4 250.7 L504.3 247.5 L504.2 251.6 L504.1 250.7 L503.9 250.8 L503.8 249.9 L503.7 250.3 L503.6 249.3 L503.5 248.5 L503.4 246.2 L503.2 249.5 L503.1 249.6 L503.0 248.6 L502.9 245.3 L502.8 248.7 L502.7 248.3 L502.5 248.7 L502.4 247.1 L502.3 245.4 L502.2 248.8 L502.0 249.4 L501.9 250.4 L501.7 245.0 L501.6 247.3 L501.4 248.0 L501.3 247.4 L501.2 246.3 L501.0 243.8 L500.9 245.6 L500.7 244.2 L500.6 245.0 L500.4 244.3 L500.3 243.9 L500.2 246.4 L500.0 245.3 L499.9 241.2 L499.7 245.4 L499.6 244.9 L499.5 246.6 L499.3 243.7 L499.2 241.6 L499.0 244.0 L498.9 244.1 L498.7 245.4 L498.6 240.8 L498.5 243.3 L498.3 239.5 L498.2 243.3 L498.0 244.0 L497.9 241.5 L497.7 244.4 L497.6 241.7 L497.5 240.9 L497.3 239.9 L497.2 245.0 L497.0 244.4 L496.9 239.3 L496.7 243.7 L496.5 245.1 L496.4 237.8 L496.2 239.6 L496.0 242.7 L495.9 241.1 L495.7 240.7 L495.5 241.9 L495.3 238.7 L495.2 238.4 L495.0 242.1 L494.8 243.1 L494.7 240.9 L494.5 239.0 L494.3 241.0 L494.1 237.9 L494.0 242.9 L493.8 236.7 L493.6 240.7 L493.5 241.2 L493.3 239.5 L493.1 238.5 L492.9 240.8 L492.7 238.8 L492.6 242.6 L492.4 238.4 L492.2 241.2 L492.0 239.5 L491.8 240.5 L491.6 240.2 L491.4 237.8 L491.2 238.5 L491.0 241.8 L490.8 239.3 L490.6 238.1 L490.4 237.8 L490.2 239.9 L490.0 240.0 L489.8 242.2 L489.6 235.1 L489.4 235.8 L489.2 239.2 L489.0 237.6 L488.8 237.5 L488.6 238.6 L488.4 239.2 L488.1 238.1 L487.9 239.2 L487.7 239.6 L487.5 237.3 L487.3 237.6 L487.1 238.0 L486.9 239.3 L486.7 237.0 L486.5 239.5 L486.3 239.0 L486.1 238.8 L485.9 236.6 L485.7 240.8 L485.5 239.4 L485.3 238.8 L485.1 239.2 L484.9 238.2 L484.7 238.3 L484.4 239.6 L484.2 235.4 L484.0 239.1 L483.8 241.7 L483.5 238.3 L483.3 237.0 L483.1 242.0 L482.9 240.3 L482.6 241.5 L482.4 239.5 L482.2 238.9 L482.0 237.8 L481.8 241.8 L481.6 240.3 L481.4 236.9 L481.2 237.3 L481.0 239.6 L480.8 238.9 L480.6 244.2 L480.5 239.3 L480.3 239.1 L480.2 241.3 L480.0 241.5 L479.9 242.8 L479.8 239.9 L479.7 240.7" stroke="#0000ff" stroke-width="0.7"/>
<path d="M479.70 241.50 C480.08 242.33 481.10 244.80 482.00 246.50 C482.90 248.20 484.02 249.95 485.10 251.70 C486.18 253.45 487.42 255.20 488.50 257.00 C489.58 258.80 490.20 259.78 491.60 262.50 C493.00 265.22 495.25 269.22 496.90 273.30 C498.55 277.38 500.23 282.55 501.50 287.00 C502.77 291.45 503.50 296.17 504.50 300.00 C505.50 303.83 506.55 306.65 507.50 310.00 C508.45 313.35 509.38 316.77 510.20 320.10 C511.02 323.43 511.63 327.12 512.40 330.00 C513.17 332.88 514.40 336.17 514.80 337.40" stroke="#7b2096" stroke-width="2.70" opacity="0.35"/>
<path d="M479.70 241.50 C480.08 242.33 481.10 244.80 482.00 246.50 C482.90 248.20 484.02 249.95 485.10 251.70 C486.18 253.45 487.42 255.20 488.50 257.00 C489.58 258.80 490.20 259.78 491.60 262.50 C493.00 265.22 495.25 269.22 496.90 273.30 C498.55 277.38 500.23 282.55 501.50 287.00 C502.77 291.45 503.50 296.17 504.50 300.00 C505.50 303.83 506.55 306.65 507.50 310.00 C508.45 313.35 509.38 316.77 510.20 320.10 C511.02 323.43 511.63 327.12 512.40 330.00 C513.17 332.88 514.40 336.17 514.80 337.40" stroke="#7b2096" stroke-width="1.50"/>
<path d="M479.7 241.5 L479.7 241.9 L479.8 241.4 L479.9 242.0 L479.9 242.5 L480.0 242.4 L480.0 243.2 L480.1 241.9 L480.2 242.6 L480.3 242.4 L480.3 242.5 L480.4 243.1 L480.5 243.5 L480.6 243.8 L480.7 244.1 L480.8 245.3 L480.9 244.7 L481.0 243.5 L481.1 244.8 L481.2 244.5 L481.3 244.8 L481.4 246.1 L481.5 245.4 L481.6 244.5 L481.7 246.1 L481.8 245.9 L481.9 245.6 L482.0 245.9 L482.1 246.3 L482.2 246.8 L482.3 246.8 L482.4 247.2 L482.5 248.5 L482.6 247.0 L482.7 247.2 L482.8 247.7 L482.9 248.7 L483.0 247.8 L483.1 249.2 L483.2 247.8 L483.3 248.1 L483.4 248.9 L483.5 248.6 L483.6 248.9 L483.7 249.7 L483.8 250.0 L483.9 249.8 L484.0 249.8 L484.1 250.9 L484.2 250.5 L484.3 250.3 L484.4 251.4 L484.6 250.3 L484.7 251.1 L484.8 251.6 L484.9 251.3 L485.0 251.2 L485.1 251.9 L485.2 251.5 L485.3 251.7 L485.4 251.6 L485.5 253.2 L485.6 252.2 L485.7 253.4 L485.9 253.1 L486.0 252.9 L486.1 253.6 L486.2 253.6 L486.3 253.6 L486.4 252.9 L486.5 253.9 L486.6 254.6 L486.7 254.5 L486.9 255.0 L487.0 255.5 L487.1 255.0 L487.2 256.1 L487.3 254.2 L487.4 255.1 L487.5 254.1 L487.6 256.1 L487.7 255.8 L487.9 257.0 L488.0 255.9 L488.1 255.1 L488.2 257.2 L488.3 255.8 L488.4 256.1 L488.5 256.9 L488.6 257.5 L488.7 257.0 L488.8 257.6 L488.9 256.5 L489.0 258.9 L489.1 257.9 L489.2 258.2 L489.3 258.6 L489.4 258.5 L489.4 258.7 L489.5 258.2 L489.6 258.8 L489.7 259.3 L489.8 259.8 L489.9 259.3 L490.0 259.5 L490.1 259.8 L490.2 260.2 L490.3 260.1 L490.3 260.0 L490.4 260.0 L490.5 261.2 L490.7 260.9 L490.8 260.9 L490.9 262.4 L491.0 261.8 L491.1 262.0 L491.2 261.8 L491.3 261.4 L491.5 262.9 L491.6 262.4 L491.7 262.7 L491.7 263.4 L491.8 263.5 L491.9 263.2 L492.0 263.2 L492.0 264.6 L492.1 263.8 L492.2 263.0 L492.3 264.3 L492.4 264.1 L492.4 264.1 L492.5 264.7 L492.6 264.6 L492.7 265.8 L492.8 264.9 L492.9 265.1 L493.0 265.8 L493.1 264.9 L493.1 266.0 L493.2 265.6 L493.3 266.5 L493.4 265.4 L493.5 266.4 L493.6 265.3 L493.7 266.2 L493.8 266.7 L493.9 267.1 L494.0 268.2 L494.1 268.3 L494.2 266.6 L494.3 267.1 L494.3 268.5 L494.4 268.2 L494.5 267.3 L494.6 268.6 L494.7 267.8 L494.8 268.2 L494.9 268.1 L495.0 268.9 L495.1 270.6 L495.2 269.7 L495.3 269.6 L495.4 271.2 L495.5 269.8 L495.6 270.2 L495.7 270.3 L495.8 270.9 L495.8 270.7 L495.9 271.9 L496.0 271.1 L496.1 271.8 L496.2 271.8 L496.3 271.4 L496.4 271.5 L496.5 272.3 L496.6 271.2 L496.6 272.7 L496.7 272.9 L496.8 273.2 L496.9 273.3 L497.0 273.7 L497.0 273.4 L497.1 274.2 L497.2 273.0 L497.2 274.7 L497.3 273.8 L497.4 274.8 L497.5 274.4 L497.5 274.6 L497.6 274.6 L497.7 276.0 L497.7 274.8 L497.8 274.9 L497.9 275.9 L497.9 276.1 L498.0 276.2 L498.1 275.8 L498.1 276.1 L498.2 277.3 L498.3 276.3 L498.3 277.5 L498.4 277.7 L498.5 277.6 L498.5 277.0 L498.6 279.0 L498.7 278.1 L498.7 278.4 L498.8 278.2 L498.9 278.1 L498.9 278.7 L499.0 279.2 L499.1 278.7 L499.1 279.5 L499.2 280.3 L499.3 280.1 L499.3 280.0 L499.4 280.8 L499.5 281.0 L499.5 281.1 L499.6 280.3 L499.7 279.9 L499.7 281.7 L499.8 281.4 L499.9 281.4 L499.9 282.1 L500.0 281.7 L500.0 281.8 L500.1 283.5 L500.2 281.6 L500.2 283.3 L500.3 283.6 L500.4 284.2 L500.4 283.5 L500.5 283.9 L500.5 283.2 L500.6 284.0 L500.7 282.9 L500.7 284.0 L500.8 284.5 L500.8 284.7 L500.9 284.6 L500.9 285.8 L501.0 284.4 L501.1 285.6 L501.1 285.4 L501.2 285.9 L501.2 286.1 L501.3 287.4 L501.3 285.8 L501.4 287.4 L501.4 287.7 L501.5 286.9 L501.6 286.8 L501.6 286.7 L501.7 287.1 L501.7 289.0 L501.8 286.7 L501.8 288.5 L501.9 288.0 L501.9 289.8 L502.0 289.0 L502.0 288.2 L502.1 288.9 L502.1 289.6 L502.2 289.7 L502.2 289.3 L502.3 289.9 L502.3 290.0 L502.4 290.8 L502.4 290.8 L502.5 291.0 L502.5 290.7 L502.6 291.8 L502.6 291.2 L502.7 291.2 L502.7 291.6 L502.8 291.9 L502.8 292.1 L502.8 291.4 L502.9 293.5 L502.9 293.3 L503.0 293.9 L503.0 293.1 L503.1 294.0 L503.1 293.9 L503.1 293.9 L503.2 295.2 L503.2 294.0 L503.3 294.9 L503.3 293.7 L503.4 295.3 L503.4 295.0 L503.4 294.7 L503.5 295.2 L503.5 294.5 L503.6 295.3 L503.6 296.2 L503.6 295.0 L503.7 297.1 L503.7 297.3 L503.8 296.4 L503.8 296.2 L503.9 296.4 L503.9 296.7 L503.9 297.2 L504.0 299.1 L504.0 297.3 L504.1 298.7 L504.1 299.1 L504.1 298.0 L504.2 298.6 L504.2 299.3 L504.3 298.7 L504.3 300.0 L504.4 300.8 L504.4 299.6 L504.5 299.3 L504.5 300.4 L504.6 300.4 L504.6 300.0 L504.7 300.6 L504.7 300.9 L504.8 301.4 L504.8 302.0 L504.9 301.2 L505.0 300.9 L505.0 300.9 L505.1 303.2 L505.1 302.1 L505.2 302.3 L505.3 304.0 L505.3 303.6 L505.4 304.4 L505.4 303.2 L505.5 303.1 L505.6 303.4 L505.6 304.3 L505.7 304.3 L505.7 304.5 L505.8 305.8 L505.8 305.4 L505.9 304.2 L506.0 305.3 L506.0 305.5 L506.1 304.9 L506.1 306.9 L506.2 306.3 L506.3 306.8 L506.3 305.8 L506.4 305.6 L506.4 306.9 L506.5 306.5 L506.5 306.5 L506.6 307.0 L506.7 307.3 L506.7 307.5 L506.8 307.4 L506.8 308.0 L506.9 309.3 L506.9 308.8 L507.0 308.0 L507.1 309.7 L507.1 308.4 L507.2 307.9 L507.2 308.2 L507.3 308.0 L507.3 310.1 L507.4 309.0 L507.4 308.9 L507.5 309.7 L507.6 310.1 L507.6 309.6 L507.7 310.2 L507.7 310.8 L507.8 311.4 L507.8 310.6 L507.9 311.7 L507.9 311.7 L508.0 312.1 L508.0 311.6 L508.1 311.4 L508.2 312.9 L508.2 312.9 L508.3 312.3 L508.3 312.4 L508.4 313.5 L508.4 314.5 L508.5 313.7 L508.5 315.0 L508.6 314.1 L508.6 314.3 L508.7 314.6 L508.7 315.1 L508.8 313.8 L508.8 314.9 L508.9 315.8 L509.0 314.3 L509.0 315.6 L509.1 316.1 L509.1 316.9 L509.2 317.0 L509.2 316.2 L509.3 317.7 L509.3 315.9 L509.4 316.0 L509.4 317.8 L509.5 317.6 L509.5 316.7 L509.6 318.2 L509.6 318.3 L509.7 318.4 L509.7 317.9 L509.8 317.6 L509.8 317.5 L509.9 318.6 L509.9 318.8 L510.0 318.8 L510.0 319.0 L510.1 320.1 L510.1 319.0 L510.2 319.5 L510.2 321.3 L510.2 319.9 L510.3 320.1 L510.3 321.3 L510.4 319.8 L510.4 322.1 L510.5 320.5 L510.5 321.0 L510.6 320.9 L510.6 321.3 L510.7 321.7 L510.7 322.9 L510.8 322.5 L510.8 323.6 L510.8 323.4 L510.9 322.4 L510.9 323.4 L511.0 323.2 L511.0 323.5 L511.1 324.1 L511.1 324.4 L511.1 324.7 L511.2 323.3 L511.2 324.7 L511.3 324.7 L511.3 326.3 L511.4 325.3 L511.4 325.6 L511.4 325.8 L511.5 326.5 L511.5 325.5 L511.6 326.3 L511.6 326.5 L511.7 326.8 L511.7 326.9 L511.7 326.9 L511.8 327.5 L511.8 326.8 L511.9 328.8 L511.9 328.0 L512.0 327.1 L512.0 328.2 L512.0 329.1 L512.1 328.6 L512.1 328.8 L512.2 327.8 L512.2 330.1 L512.3 329.5 L512.3 328.5 L512.4 329.5 L512.4 330.9 L512.5 330.5 L512.5 329.5 L512.6 330.3 L512.7 331.1 L512.7 332.4 L512.8 331.5 L512.9 332.1 L512.9 331.7 L513.0 332.1 L513.1 331.7 L513.2 331.7 L513.2 331.9 L513.3 332.6 L513.4 334.0 L513.4 333.4 L513.5 334.4 L513.6 334.4 L513.7 334.2 L513.7 334.0 L513.8 335.8 L513.9 335.4 L513.9 335.7 L514.0 336.5 L514.1 336.2 L514.1 335.6 L514.2 335.9 L514.3 336.2 L514.3 337.4 L514.4 335.6 L514.4 335.3 L514.5 336.2 L514.6 336.7 L514.6 336.5 L514.6 337.5 L514.7 337.4 L514.7 337.2 L514.8 337.3 L514.8 338.6" stroke="#7b2096" stroke-width="0.7"/>
<path d="M512.40 330.00 C512.80 331.23 514.02 334.80 514.80 337.40 C515.58 340.00 516.32 342.83 517.10 345.60 C517.88 348.37 518.70 351.63 519.50 354.00 C520.30 356.37 520.92 358.22 521.90 359.80 C522.88 361.38 524.02 362.67 525.40 363.50 C526.78 364.33 528.85 364.73 530.20 364.80 C531.55 364.87 532.33 364.63 533.50 363.90 C534.67 363.17 535.38 361.78 537.20 360.40 C539.02 359.02 542.00 357.12 544.40 355.60 C546.80 354.08 549.20 352.83 551.60 351.30 C554.00 349.77 556.40 348.05 558.80 346.40 C561.20 344.75 563.60 342.93 566.00 341.40 C568.40 339.87 570.80 338.72 573.20 337.20 C575.60 335.68 578.00 333.95 580.40 332.30 C582.80 330.65 585.22 328.82 587.60 327.30 C589.98 325.78 592.55 324.25 594.70 323.20 C596.85 322.15 598.82 321.37 600.50 321.00 C602.18 320.63 603.60 320.53 604.80 321.00 C606.00 321.47 607.22 323.33 607.70 323.80" stroke="#7b2096" stroke-width="4.60" opacity="0.30"/>
<path d="M512.40 330.00 C512.80 331.23 514.02 334.80 514.80 337.40 C515.58 340.00 516.32 342.83 517.10 345.60 C517.88 348.37 518.70 351.63 519.50 354.00 C520.30 356.37 520.92 358.22 521.90 359.80 C522.88 361.38 524.02 362.67 525.40 363.50 C526.78 364.33 528.85 364.73 530.20 364.80 C531.55 364.87 532.33 364.63 533.50 363.90 C534.67 363.17 535.38 361.78 537.20 360.40 C539.02 359.02 542.00 357.12 544.40 355.60 C546.80 354.08 549.20 352.83 551.60 351.30 C554.00 349.77 556.40 348.05 558.80 346.40 C561.20 344.75 563.60 342.93 566.00 341.40 C568.40 339.87 570.80 338.72 573.20 337.20 C575.60 335.68 578.00 333.95 580.40 332.30 C582.80 330.65 585.22 328.82 587.60 327.30 C589.98 325.78 592.55 324.25 594.70 323.20 C596.85 322.15 598.82 321.37 600.50 321.00 C602.18 320.63 603.60 320.53 604.80 321.00 C606.00 321.47 607.22 323.33 607.70 323.80" stroke="#7b2096" stroke-width="2.20"/>
<path d="M512.4 327.8 L512.4 327.9 L512.5 329.9 L512.5 326.2 L512.6 333.0 L512.6 329.6 L512.6 329.3 L512.7 331.2 L512.7 332.4 L512.8 331.3 L512.9 331.5 L512.9 330.5 L513.0 328.6 L513.0 331.3 L513.1 336.0 L513.2 331.9 L513.2 329.8 L513.3 332.1 L513.4 331.2 L513.5 329.0 L513.5 332.7 L513.6 334.5 L513.7 336.5 L513.7 336.5 L513.8 333.3 L513.9 337.3 L514.0 335.4 L514.0 336.3 L514.1 334.0 L514.2 336.9 L514.3 333.1 L514.3 338.4 L514.4 332.7 L514.5 333.0 L514.5 337.4 L514.6 334.9 L514.7 337.0 L514.7 339.3 L514.8 336.3 L514.9 338.8 L514.9 338.4 L515.0 340.2 L515.0 337.7 L515.1 341.3 L515.1 337.4 L515.2 341.9 L515.2 338.1 L515.3 341.1 L515.4 335.8 L515.4 336.9 L515.5 338.9 L515.5 341.1 L515.6 342.8 L515.6 339.9 L515.7 341.9 L515.7 344.8 L515.8 342.4 L515.8 339.9 L515.9 343.1 L515.9 342.2 L516.0 340.8 L516.1 341.0 L516.1 341.4 L516.2 340.7 L516.2 343.2 L516.3 342.1 L516.3 344.7 L516.4 347.1 L516.4 340.9 L516.5 343.5 L516.5 346.7 L516.6 345.1 L516.7 345.6 L516.7 344.6 L516.8 345.2 L516.8 343.3 L516.9 346.5 L516.9 344.5 L517.0 342.0 L517.0 345.9 L517.1 345.1 L517.2 348.0 L517.2 345.7 L517.3 347.9 L517.3 347.4 L517.4 346.0 L517.4 345.7 L517.5 348.3 L517.5 347.8 L517.6 349.1 L517.7 350.1 L517.7 349.1 L517.8 350.1 L517.8 347.3 L517.9 344.8 L517.9 347.4 L518.0 349.7 L518.0 351.4 L518.1 349.3 L518.2 348.2 L518.2 350.8 L518.3 349.7 L518.3 352.2 L518.4 349.8 L518.4 348.8 L518.5 352.9 L518.5 350.5 L518.6 349.3 L518.7 353.6 L518.7 348.5 L518.8 354.0 L518.8 351.3 L518.9 347.9 L518.9 351.8 L519.0 353.8 L519.1 354.0 L519.1 351.7 L519.2 353.2 L519.2 353.5 L519.3 354.3 L519.3 352.5 L519.4 352.1 L519.4 352.2 L519.5 353.6 L519.6 350.0 L519.7 356.7 L519.7 354.2 L519.8 353.1 L519.9 352.5 L519.9 353.6 L520.0 359.7 L520.1 356.3 L520.2 356.2 L520.2 356.5 L520.3 356.4 L520.4 357.1 L520.5 354.3 L520.5 357.2 L520.6 359.2 L520.7 357.8 L520.7 357.0 L520.8 359.8 L520.9 360.4 L521.0 355.0 L521.0 359.3 L521.1 359.4 L521.2 358.5 L521.3 358.2 L521.4 363.7 L521.5 358.1 L521.5 358.7 L521.6 358.2 L521.7 357.1 L521.8 358.0 L521.9 362.1 L522.0 357.2 L522.1 359.4 L522.3 356.4 L522.4 360.5 L522.5 360.9 L522.6 359.6 L522.8 359.3 L522.9 359.9 L523.0 357.6 L523.2 359.4 L523.3 362.8 L523.4 361.8 L523.6 362.8 L523.7 361.1 L523.9 364.0 L524.0 361.5 L524.1 362.6 L524.3 363.1 L524.4 362.0 L524.6 362.4 L524.8 361.1 L524.9 363.4 L525.1 362.6 L525.2 361.7 L525.4 360.8 L525.6 365.0 L525.8 360.2 L525.9 362.0 L526.1 362.6 L526.3 366.7 L526.5 365.1 L526.8 360.0 L527.0 364.0 L527.2 364.1 L527.4 366.7 L527.6 363.4 L527.8 364.3 L528.0 364.4 L528.2 363.3 L528.5 367.0 L528.7 366.1 L528.9 363.5 L529.1 363.9 L529.3 363.2 L529.5 367.8 L529.7 365.8 L529.8 365.1 L530.0 364.9 L530.2 365.7 L530.4 365.3 L530.7 363.9 L530.9 365.0 L531.1 366.5 L531.3 364.0 L531.5 365.4 L531.6 365.4 L531.8 362.8 L532.0 362.6 L532.2 363.2 L532.4 364.9 L532.5 364.7 L532.7 366.0 L532.9 367.7 L533.1 368.1 L533.3 362.3 L533.5 364.9 L533.6 366.4 L533.8 365.2 L533.9 362.0 L534.0 364.8 L534.2 360.5 L534.3 364.7 L534.4 362.1 L534.5 363.4 L534.7 363.0 L534.8 364.6 L534.9 365.4 L535.0 362.8 L535.2 366.5 L535.3 359.7 L535.4 360.8 L535.6 361.1 L535.7 358.9 L535.9 365.7 L536.1 363.9 L536.2 361.8 L536.4 362.2 L536.6 360.7 L536.8 359.2 L537.0 360.1 L537.2 359.3 L537.3 361.6 L537.5 358.1 L537.6 360.4 L537.7 363.4 L537.9 358.8 L538.0 357.3 L538.2 363.1 L538.3 360.6 L538.5 362.8 L538.6 356.1 L538.8 358.5 L539.0 358.2 L539.1 359.2 L539.3 358.1 L539.5 361.5 L539.6 360.1 L539.8 357.3 L540.0 360.0 L540.1 358.5 L540.3 358.4 L540.5 362.3 L540.7 353.8 L540.8 354.6 L541.0 358.1 L541.2 359.2 L541.4 359.3 L541.6 358.9 L541.7 353.1 L541.9 355.7 L542.1 357.1 L542.3 359.9 L542.5 354.2 L542.7 361.5 L542.8 358.8 L543.0 354.6 L543.2 355.4 L543.4 359.2 L543.5 355.3 L543.7 356.7 L543.9 354.2 L544.1 356.5 L544.2 357.0 L544.4 358.6 L544.6 356.7 L544.8 356.3 L544.9 355.6 L545.1 357.6 L545.3 354.2 L545.5 353.8 L545.6 356.1 L545.8 356.2 L546.0 351.9 L546.2 355.9 L546.3 357.1 L546.5 354.6 L546.7 353.3 L546.9 352.2 L547.0 354.5 L547.2 356.1 L547.4 352.9 L547.6 356.5 L547.7 355.7 L547.9 354.0 L548.1 353.3 L548.3 354.7 L548.4 351.9 L548.6 353.8 L548.8 355.3 L549.0 353.0 L549.1 354.6 L549.3 354.7 L549.5 349.5 L549.7 354.7 L549.8 355.2 L550.0 352.7 L550.2 352.9 L550.4 353.1 L550.5 355.2 L550.7 353.6 L550.9 349.7 L551.1 353.9 L551.2 351.7 L551.4 350.1 L551.6 352.4 L551.8 349.6 L551.9 352.5 L552.1 354.4 L552.3 350.5 L552.4 349.6 L552.6 348.6 L552.8 348.2 L552.9 348.8 L553.1 351.0 L553.3 350.6 L553.4 350.3 L553.6 347.0 L553.8 349.4 L553.9 352.7 L554.1 347.3 L554.3 345.4 L554.4 351.0 L554.6 346.7 L554.8 345.2 L554.9 348.6 L555.1 352.7 L555.3 348.3 L555.5 347.4 L555.6 348.4 L555.8 346.8 L556.0 351.6 L556.1 349.7 L556.3 348.0 L556.5 349.0 L556.6 344.7 L556.8 349.5 L557.0 348.6 L557.1 345.1 L557.3 346.3 L557.5 346.2 L557.6 348.0 L557.8 347.2 L558.0 349.0 L558.1 345.9 L558.3 348.5 L558.5 344.3 L558.6 345.7 L558.8 349.1 L559.0 348.3 L559.1 347.2 L559.3 345.7 L559.5 346.7 L559.6 347.8 L559.8 347.8 L560.0 344.0 L560.1 348.3 L560.3 345.4 L560.5 343.1 L560.6 347.5 L560.8 343.6 L561.0 347.8 L561.1 342.4 L561.3 343.9 L561.5 342.2 L561.6 347.0 L561.8 346.1 L562.0 347.7 L562.1 344.2 L562.3 346.8 L562.5 345.7 L562.7 343.7 L562.8 339.4 L563.0 343.7 L563.2 345.9 L563.3 339.0 L563.5 342.5 L563.7 343.8 L563.8 342.9 L564.0 341.9 L564.2 343.3 L564.3 342.3 L564.5 343.9 L564.7 342.1 L564.8 344.5 L565.0 341.6 L565.2 344.0 L565.3 338.7 L565.5 342.3 L565.7 342.2 L565.8 341.7 L566.0 341.0 L566.2 341.8 L566.4 340.6 L566.5 341.2 L566.7 340.7 L566.9 337.9 L567.1 338.6 L567.2 342.4 L567.4 343.3 L567.6 343.0 L567.8 339.3 L567.9 340.7 L568.1 342.1 L568.3 340.9 L568.5 338.1 L568.6 340.3 L568.8 338.7 L569.0 340.9 L569.2 342.9 L569.3 338.5 L569.5 340.1 L569.7 341.9 L569.9 339.2 L570.0 341.6 L570.2 340.3 L570.4 340.5 L570.6 341.0 L570.7 337.8 L570.9 340.5 L571.1 336.7 L571.3 340.3 L571.4 339.1 L571.6 338.7 L571.8 338.4 L572.0 339.5 L572.1 336.4 L572.3 337.2 L572.5 336.3 L572.7 341.4 L572.8 340.8 L573.0 333.7 L573.2 339.1 L573.4 337.2 L573.5 337.3 L573.7 337.0 L573.9 336.5 L574.0 335.3 L574.2 336.8 L574.4 339.4 L574.5 334.4 L574.7 335.5 L574.9 338.2 L575.0 334.6 L575.2 334.3 L575.4 334.7 L575.5 333.2 L575.7 334.0 L575.9 336.1 L576.0 337.9 L576.2 336.0 L576.4 333.4 L576.5 335.1 L576.7 334.9 L576.9 337.8 L577.1 335.4 L577.2 333.3 L577.4 335.6 L577.6 334.9 L577.7 334.9 L577.9 334.0 L578.1 335.1 L578.2 330.6 L578.4 331.6 L578.6 331.5 L578.7 332.1 L578.9 334.8 L579.1 334.7 L579.2 331.8 L579.4 330.6 L579.6 330.9 L579.7 334.0 L579.9 329.8 L580.1 331.9 L580.2 331.9 L580.4 332.0 L580.6 329.8 L580.7 331.7 L580.9 331.3 L581.1 330.5 L581.2 330.2 L581.4 332.1 L581.6 330.3 L581.7 329.5 L581.9 332.8 L582.1 330.6 L582.2 334.6 L582.4 335.1 L582.6 328.9 L582.7 330.4 L582.9 331.6 L583.1 332.4 L583.3 332.3 L583.4 330.4 L583.6 331.3 L583.8 329.5 L583.9 328.4 L584.1 329.2 L584.3 330.2 L584.4 331.3 L584.6 326.4 L584.8 329.5 L584.9 328.8 L585.1 328.1 L585.3 328.2 L585.4 331.9 L585.6 327.5 L585.8 328.2 L585.9 331.4 L586.1 330.5 L586.3 327.7 L586.4 329.7 L586.6 328.6 L586.8 328.1 L586.9 327.3 L587.1 323.4 L587.3 329.3 L587.4 328.3 L587.6 325.6 L587.8 324.8 L588.0 328.7 L588.1 327.8 L588.3 326.2 L588.5 326.2 L588.7 325.9 L588.9 327.1 L589.0 326.6 L589.2 325.8 L589.4 328.0 L589.6 328.1 L589.8 328.1 L590.0 323.8 L590.1 327.4 L590.3 323.5 L590.5 326.3 L590.7 322.8 L590.9 323.8 L591.1 323.7 L591.2 327.2 L591.4 326.5 L591.6 325.1 L591.8 322.7 L592.0 322.8 L592.1 322.2 L592.3 322.9 L592.5 321.3 L592.7 326.3 L592.8 322.4 L593.0 322.9 L593.2 323.5 L593.4 320.3 L593.5 324.2 L593.7 321.6 L593.9 322.0 L594.0 322.0 L594.2 323.2 L594.4 323.1 L594.5 324.5 L594.7 322.1 L594.9 323.2 L595.1 322.3 L595.3 326.4 L595.5 324.8 L595.7 321.5 L595.9 322.7 L596.1 322.2 L596.3 320.3 L596.5 321.8 L596.7 322.3 L596.9 322.3 L597.1 322.7 L597.3 323.0 L597.5 321.2 L597.7 322.4 L597.9 319.2 L598.1 318.4 L598.2 325.7 L598.4 323.4 L598.6 321.7 L598.8 322.3 L599.0 322.5 L599.1 318.2 L599.3 321.2 L599.5 321.2 L599.7 321.7 L599.8 322.3 L600.0 322.8 L600.2 319.8 L600.3 321.4 L600.5 318.1 L600.7 319.0 L601.0 319.2 L601.2 321.6 L601.4 323.5 L601.7 323.7 L601.9 320.2 L602.1 321.6 L602.3 320.0 L602.5 321.8 L602.7 321.1 L602.9 320.8 L603.1 319.8 L603.3 323.5 L603.5 323.7 L603.7 320.4 L603.9 323.1 L604.1 321.6 L604.3 319.6 L604.5 317.8 L604.6 322.6 L604.8 317.7 L605.0 319.8 L605.2 321.9 L605.3 323.7 L605.5 324.8 L605.7 322.6 L605.9 319.7 L606.0 319.7 L606.2 321.2 L606.4 321.4 L606.5 325.4 L606.7 321.6 L606.8 324.7 L607.0 319.3 L607.1 321.3 L607.2 323.4 L607.3 320.7 L607.4 326.4 L607.5 324.9 L607.6 322.6 L607.7 321.9" stroke="#7b2096" stroke-width="0.7"/>
</g>
<rect x="378.30" y="186.80" width="243.90" height="193.20" fill="none" stroke="#6e6e6e" stroke-width="1.2"/>
<path d="M378.30 380.00 h4.5 M378.30 373.56 h2.5 M378.30 367.12 h2.5 M378.30 360.68 h2.5 M378.30 354.24 h2.5 M378.30 347.80 h4.5 M378.30 341.36 h2.5 M378.30 334.92 h2.5 M378.30 328.48 h2.5 M378.30 322.04 h2.5 M378.30 315.60 h4.5 M378.30 309.16 h2.5 M378.30 302.72 h2.5 M378.30 296.28 h2.5 M378.30 289.84 h2.5 M378.30 283.40 h4.5 M378.30 276.96 h2.5 M378.30 270.52 h2.5 M378.30 264.08 h2.5 M378.30 257.64 h2.5 M378.30 251.20 h4.5 M378.30 244.76 h2.5 M378.30 238.32 h2.5 M378.30 231.88 h2.5 M378.30 225.44 h2.5 M378.30 219.00 h4.5 M378.30 212.56 h2.5 M378.30 206.12 h2.5 M378.30 199.68 h2.5 M378.30 193.24 h2.5 M378.30 186.80 h4.5 M378.30 380.00 v-4.5 M388.06 380.00 v-2.5 M397.81 380.00 v-2.5 M407.57 380.00 v-2.5 M417.32 380.00 v-2.5 M427.08 380.00 v-4.5 M436.84 380.00 v-2.5 M446.59 380.00 v-2.5 M456.35 380.00 v-2.5 M466.10 380.00 v-2.5 M475.86 380.00 v-4.5 M485.62 380.00 v-2.5 M495.37 380.00 v-2.5 M505.13 380.00 v-2.5 M514.88 380.00 v-2.5 M524.64 380.00 v-4.5 M534.40 380.00 v-2.5 M544.15 380.00 v-2.5 M553.91 380.00 v-2.5 M563.66 380.00 v-2.5 M573.42 380.00 v-4.5 M583.18 380.00 v-2.5 M592.93 380.00 v-2.5 M602.69 380.00 v-2.5 M612.44 380.00 v-2.5 M622.20 380.00 v-4.5" stroke="#6e6e6e" stroke-width="1" fill="none"/>
<g font-family="Liberation Sans, sans-serif" fill="#393939" font-size="12.4">
<text x="373.5" y="385.20" text-anchor="end">-100</text>
<text x="373.5" y="352.95" text-anchor="end">-50</text>
<text x="373.5" y="320.70" text-anchor="end">0</text>
<text x="373.5" y="288.45" text-anchor="end">50</text>
<text x="373.5" y="256.20" text-anchor="end">100</text>
<text x="373.5" y="223.95" text-anchor="end">150</text>
<text x="373.5" y="191.70" text-anchor="end">200</text>
<text x="378.30" y="396.6" text-anchor="middle">0</text>
<text x="427.08" y="396.6" text-anchor="middle">200</text>
<text x="475.86" y="396.6" text-anchor="middle">400</text>
<text x="524.64" y="396.6" text-anchor="middle">600</text>
<text x="573.42" y="396.6" text-anchor="middle">800</text>
<text x="622.20" y="396.6" text-anchor="middle">1000</text>
</g>
<text x="500" y="412.6" font-family="Liberation Sans, sans-serif" font-size="13.5" fill="#393939" text-anchor="middle">Capacity(mAh/g)</text>
<text transform="translate(337.5,316.6) rotate(-90)" font-family="Liberation Sans, sans-serif" font-size="14" fill="#393939"><tspan>σ</tspan>·<tspan font-style="italic">t</tspan><tspan dy="3" font-size="9.5" font-style="italic">f</tspan><tspan dy="-3"> (Pa-m)</tspan></text>
<text x="621.2" y="196.9" font-family="Liberation Sans, sans-serif" font-size="11.6" fill="#3a3a3a" stroke="#3a3a3a" stroke-width="0.45" text-anchor="end">(c)</text>
<path d="M383.2 194.90 H406.2" stroke="#ff5a5a" stroke-width="1.5"/>
<text x="408" y="197.90" font-family="Liberation Sans, sans-serif" font-size="9.3" fill="#393939">Partial Sodiation (4h)/ full desodiation</text>
<path d="M383.2 206.10 H406.2" stroke="#505050" stroke-width="1.2"/>
<text x="408" y="209.10" font-family="Liberation Sans, sans-serif" font-size="9.3" fill="#393939">Partial Sodiation (5h)/ full desodiation</text>
<path d="M383.2 218.10 H406.2" stroke="#5a5aff" stroke-width="1.3"/>
<text x="408" y="221.10" font-family="Liberation Sans, sans-serif" font-size="9.3" fill="#393939">Full Cycle</text>
<path d="M383.2 229.20 H406.2" stroke="#9a60b0" stroke-width="1.3"/>
<text x="408" y="232.20" font-family="Liberation Sans, sans-serif" font-size="9.3" fill="#393939">Second Sodiation</text>
</svg>
</body></html>
